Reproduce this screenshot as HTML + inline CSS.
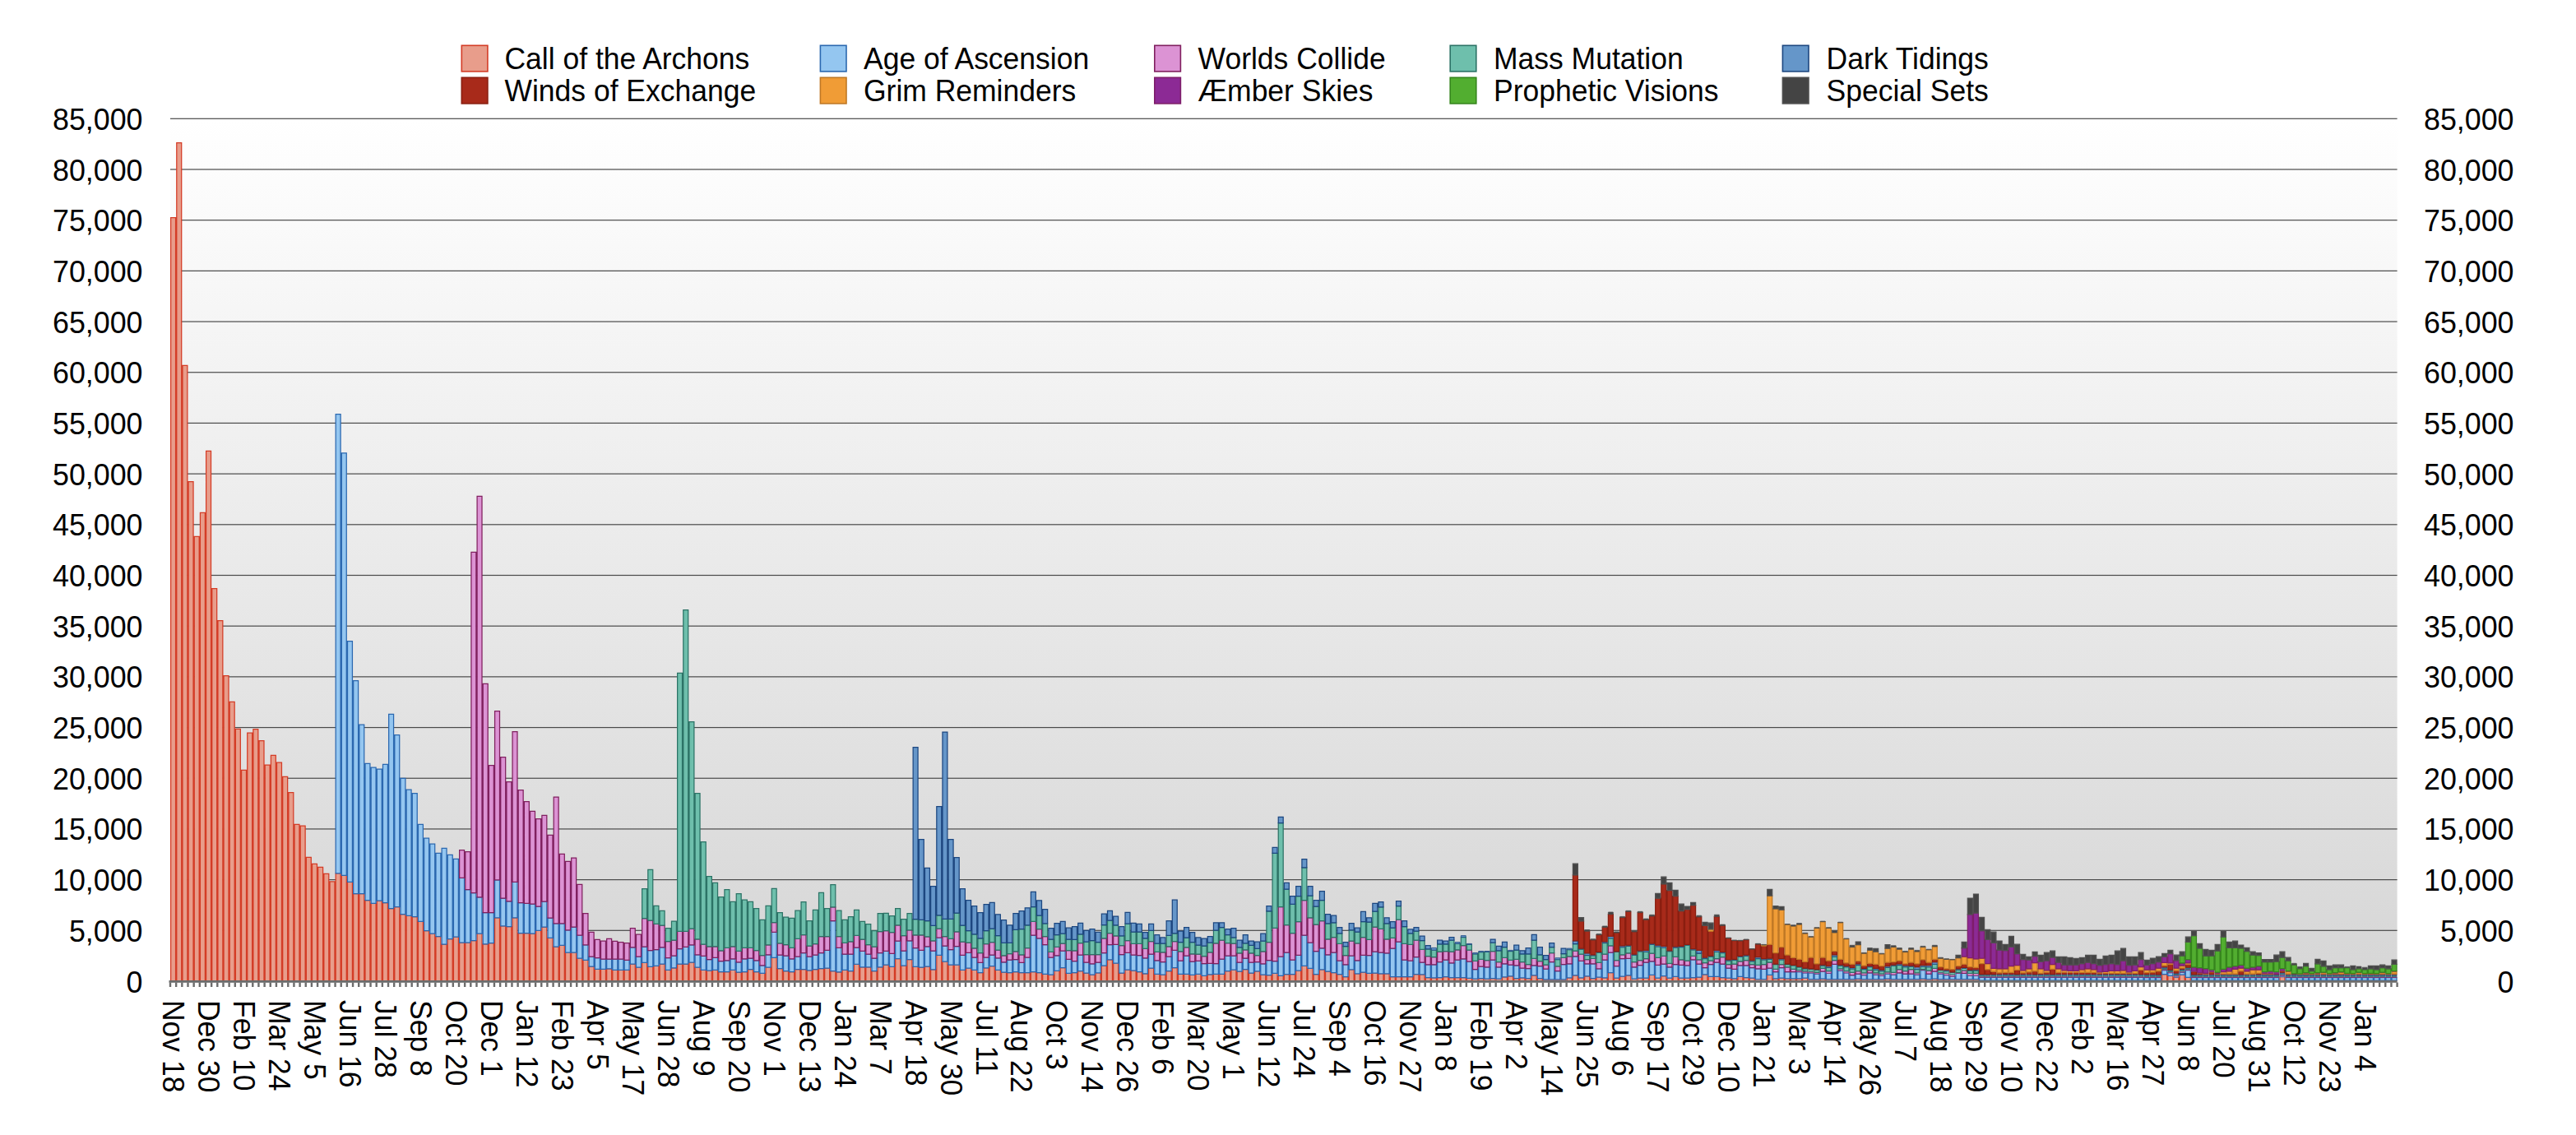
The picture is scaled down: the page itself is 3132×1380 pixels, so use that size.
<!DOCTYPE html><html><head><meta charset="utf-8"><style>html,body{margin:0;padding:0;background:#fff;width:3132px;height:1380px;overflow:hidden}svg{display:block}text{font-family:"Liberation Sans",sans-serif;fill:#000}</style></head><body><svg width="3132" height="1380" viewBox="0 0 3132 1380"><defs><linearGradient id="bg" x1="0" y1="0" x2="0" y2="1"><stop offset="0" stop-color="#ffffff"/><stop offset="1" stop-color="#d6d6d6"/></linearGradient></defs><rect x="207.0" y="144.3" width="2707.6" height="1048.7" fill="url(#bg)"/><rect x="207.0" y="1130.71" width="2707.6" height="1.2" fill="#4a4a4a"/><rect x="207.0" y="1069.02" width="2707.6" height="1.2" fill="#4a4a4a"/><rect x="207.0" y="1007.34" width="2707.6" height="1.2" fill="#4a4a4a"/><rect x="207.0" y="945.65" width="2707.6" height="1.2" fill="#4a4a4a"/><rect x="207.0" y="883.96" width="2707.6" height="1.2" fill="#4a4a4a"/><rect x="207.0" y="822.27" width="2707.6" height="1.2" fill="#4a4a4a"/><rect x="207.0" y="760.58" width="2707.6" height="1.2" fill="#4a4a4a"/><rect x="207.0" y="698.89" width="2707.6" height="1.2" fill="#4a4a4a"/><rect x="207.0" y="637.21" width="2707.6" height="1.2" fill="#4a4a4a"/><rect x="207.0" y="575.52" width="2707.6" height="1.2" fill="#4a4a4a"/><rect x="207.0" y="513.83" width="2707.6" height="1.2" fill="#4a4a4a"/><rect x="207.0" y="452.14" width="2707.6" height="1.2" fill="#4a4a4a"/><rect x="207.0" y="390.45" width="2707.6" height="1.2" fill="#4a4a4a"/><rect x="207.0" y="328.76" width="2707.6" height="1.2" fill="#4a4a4a"/><rect x="207.0" y="267.08" width="2707.6" height="1.2" fill="#4a4a4a"/><rect x="207.0" y="205.39" width="2707.6" height="1.2" fill="#4a4a4a"/><rect x="207.0" y="143.70" width="2707.6" height="1.2" fill="#4a4a4a"/><text transform="translate(173.5,1206.5) scale(1,1.05)" style="font-size:35.8px" text-anchor="end">0</text><text transform="translate(3056.5,1206.5) scale(1,1.05)" style="font-size:35.8px" text-anchor="end">0</text><text transform="translate(173.5,1144.8) scale(1,1.05)" style="font-size:35.8px" text-anchor="end">5,000</text><text transform="translate(3056.5,1144.8) scale(1,1.05)" style="font-size:35.8px" text-anchor="end">5,000</text><text transform="translate(173.5,1083.1) scale(1,1.05)" style="font-size:35.8px" text-anchor="end">10,000</text><text transform="translate(3056.5,1083.1) scale(1,1.05)" style="font-size:35.8px" text-anchor="end">10,000</text><text transform="translate(173.5,1021.4) scale(1,1.05)" style="font-size:35.8px" text-anchor="end">15,000</text><text transform="translate(3056.5,1021.4) scale(1,1.05)" style="font-size:35.8px" text-anchor="end">15,000</text><text transform="translate(173.5,959.7) scale(1,1.05)" style="font-size:35.8px" text-anchor="end">20,000</text><text transform="translate(3056.5,959.7) scale(1,1.05)" style="font-size:35.8px" text-anchor="end">20,000</text><text transform="translate(173.5,898.1) scale(1,1.05)" style="font-size:35.8px" text-anchor="end">25,000</text><text transform="translate(3056.5,898.1) scale(1,1.05)" style="font-size:35.8px" text-anchor="end">25,000</text><text transform="translate(173.5,836.4) scale(1,1.05)" style="font-size:35.8px" text-anchor="end">30,000</text><text transform="translate(3056.5,836.4) scale(1,1.05)" style="font-size:35.8px" text-anchor="end">30,000</text><text transform="translate(173.5,774.7) scale(1,1.05)" style="font-size:35.8px" text-anchor="end">35,000</text><text transform="translate(3056.5,774.7) scale(1,1.05)" style="font-size:35.8px" text-anchor="end">35,000</text><text transform="translate(173.5,713.0) scale(1,1.05)" style="font-size:35.8px" text-anchor="end">40,000</text><text transform="translate(3056.5,713.0) scale(1,1.05)" style="font-size:35.8px" text-anchor="end">40,000</text><text transform="translate(173.5,651.3) scale(1,1.05)" style="font-size:35.8px" text-anchor="end">45,000</text><text transform="translate(3056.5,651.3) scale(1,1.05)" style="font-size:35.8px" text-anchor="end">45,000</text><text transform="translate(173.5,589.6) scale(1,1.05)" style="font-size:35.8px" text-anchor="end">50,000</text><text transform="translate(3056.5,589.6) scale(1,1.05)" style="font-size:35.8px" text-anchor="end">50,000</text><text transform="translate(173.5,527.9) scale(1,1.05)" style="font-size:35.8px" text-anchor="end">55,000</text><text transform="translate(3056.5,527.9) scale(1,1.05)" style="font-size:35.8px" text-anchor="end">55,000</text><text transform="translate(173.5,466.2) scale(1,1.05)" style="font-size:35.8px" text-anchor="end">60,000</text><text transform="translate(3056.5,466.2) scale(1,1.05)" style="font-size:35.8px" text-anchor="end">60,000</text><text transform="translate(173.5,404.6) scale(1,1.05)" style="font-size:35.8px" text-anchor="end">65,000</text><text transform="translate(3056.5,404.6) scale(1,1.05)" style="font-size:35.8px" text-anchor="end">65,000</text><text transform="translate(173.5,342.9) scale(1,1.05)" style="font-size:35.8px" text-anchor="end">70,000</text><text transform="translate(3056.5,342.9) scale(1,1.05)" style="font-size:35.8px" text-anchor="end">70,000</text><text transform="translate(173.5,281.2) scale(1,1.05)" style="font-size:35.8px" text-anchor="end">75,000</text><text transform="translate(3056.5,281.2) scale(1,1.05)" style="font-size:35.8px" text-anchor="end">75,000</text><text transform="translate(173.5,219.5) scale(1,1.05)" style="font-size:35.8px" text-anchor="end">80,000</text><text transform="translate(3056.5,219.5) scale(1,1.05)" style="font-size:35.8px" text-anchor="end">80,000</text><text transform="translate(173.5,157.8) scale(1,1.05)" style="font-size:35.8px" text-anchor="end">85,000</text><text transform="translate(3056.5,157.8) scale(1,1.05)" style="font-size:35.8px" text-anchor="end">85,000</text><g><path d="M207.62 264.50h5.923v928.50h-5.923zM214.78 173.70h5.923v1019.30h-5.923zM221.95 444.40h5.923v748.60h-5.923zM229.11 585.70h5.923v607.30h-5.923zM236.27 652.30h5.923v540.70h-5.923zM243.43 623.40h5.923v569.60h-5.923zM250.60 548.40h5.923v644.60h-5.923zM257.76 715.60h5.923v477.40h-5.923zM264.92 754.50h5.923v438.50h-5.923zM272.09 821.70h5.923v371.30h-5.923zM279.25 853.30h5.923v339.70h-5.923zM286.41 886.30h5.923v306.70h-5.923zM293.58 936.30h5.923v256.70h-5.923zM300.74 891.20h5.923v301.80h-5.923zM307.90 886.60h5.923v306.40h-5.923zM315.06 900.60h5.923v292.40h-5.923zM322.23 930.10h5.923v262.90h-5.923zM329.39 918.40h5.923v274.60h-5.923zM336.55 927.20h5.923v265.80h-5.923zM343.72 944.40h5.923v248.60h-5.923zM350.88 963.50h5.923v229.50h-5.923zM358.04 1002.40h5.923v190.60h-5.923zM365.21 1004.10h5.923v188.90h-5.923zM372.37 1042.30h5.923v150.70h-5.923zM379.53 1050.30h5.923v142.70h-5.923zM386.69 1054.40h5.923v138.60h-5.923zM393.86 1062.40h5.923v130.60h-5.923zM401.02 1071.90h5.923v121.10h-5.923zM408.18 1061.90h5.923v131.10h-5.923zM415.35 1064.40h5.923v128.60h-5.923zM422.51 1072.40h5.923v120.60h-5.923zM429.67 1086.50h5.923v106.50h-5.923zM436.83 1086.50h5.923v106.50h-5.923zM444.00 1094.50h5.923v98.50h-5.923zM451.16 1098.30h5.923v94.70h-5.923zM458.32 1095.00h5.923v98.00h-5.923zM465.49 1097.50h5.923v95.50h-5.923zM472.65 1104.60h5.923v88.40h-5.923zM479.81 1102.60h5.923v90.40h-5.923zM486.98 1111.60h5.923v81.40h-5.923zM494.14 1113.40h5.923v79.60h-5.923zM501.30 1114.60h5.923v78.40h-5.923zM508.46 1120.40h5.923v72.60h-5.923zM515.63 1131.50h5.923v61.50h-5.923zM522.79 1135.20h5.923v57.80h-5.923zM529.95 1138.50h5.923v54.50h-5.923zM537.12 1148.00h5.923v45.00h-5.923zM544.28 1141.70h5.923v51.30h-5.923zM551.44 1139.20h5.923v53.80h-5.923zM558.61 1146.00h5.923v47.00h-5.923zM565.77 1146.00h5.923v47.00h-5.923zM572.93 1143.50h5.923v49.50h-5.923zM580.09 1135.20h5.923v57.80h-5.923zM587.26 1147.80h5.923v45.20h-5.923zM594.42 1146.50h5.923v46.50h-5.923zM601.58 1115.90h5.923v77.10h-5.923zM608.75 1125.90h5.923v67.10h-5.923zM615.91 1126.70h5.923v66.30h-5.923zM623.07 1115.90h5.923v77.10h-5.923zM630.23 1134.70h5.923v58.30h-5.923zM637.40 1134.70h5.923v58.30h-5.923zM644.56 1135.10h5.923v57.90h-5.923zM651.72 1131.30h5.923v61.70h-5.923zM658.89 1127.10h5.923v65.90h-5.923zM666.05 1140.40h5.923v52.60h-5.923zM673.21 1151.00h5.923v42.00h-5.923zM680.38 1149.30h5.923v43.70h-5.923zM687.54 1158.20h5.923v34.80h-5.923zM694.70 1158.20h5.923v34.80h-5.923zM701.86 1165.20h5.923v27.80h-5.923zM709.03 1167.30h5.923v25.70h-5.923zM716.19 1175.10h5.923v17.90h-5.923zM723.35 1178.30h5.923v14.70h-5.923zM730.52 1178.30h5.923v14.70h-5.923zM737.68 1177.80h5.923v15.20h-5.923zM744.84 1179.30h5.923v13.70h-5.923zM752.01 1179.30h5.923v13.70h-5.923zM759.17 1179.30h5.923v13.70h-5.923zM766.33 1172.10h5.923v20.90h-5.923zM773.49 1176.20h5.923v16.80h-5.923zM780.66 1170.40h5.923v22.60h-5.923zM787.82 1175.30h5.923v17.70h-5.923zM794.98 1174.30h5.923v18.70h-5.923zM802.15 1172.10h5.923v20.90h-5.923zM809.31 1179.30h5.923v13.70h-5.923zM816.47 1176.80h5.923v16.20h-5.923zM823.63 1172.10h5.923v20.90h-5.923zM830.80 1172.10h5.923v20.90h-5.923zM837.96 1170.00h5.923v23.00h-5.923zM845.12 1176.20h5.923v16.80h-5.923zM852.29 1179.30h5.923v13.70h-5.923zM859.45 1180.20h5.923v12.80h-5.923zM866.61 1179.40h5.923v13.60h-5.923zM873.78 1181.50h5.923v11.50h-5.923zM880.94 1181.50h5.923v11.50h-5.923zM888.10 1179.40h5.923v13.60h-5.923zM895.26 1182.10h5.923v10.90h-5.923zM902.43 1181.50h5.923v11.50h-5.923zM909.59 1178.60h5.923v14.40h-5.923zM916.75 1181.50h5.923v11.50h-5.923zM923.92 1183.40h5.923v9.60h-5.923zM931.08 1176.20h5.923v16.80h-5.923zM938.24 1164.30h5.923v28.70h-5.923zM945.41 1177.50h5.923v15.50h-5.923zM952.57 1180.70h5.923v12.30h-5.923zM959.73 1181.50h5.923v11.50h-5.923zM966.89 1178.60h5.923v14.40h-5.923zM974.06 1178.60h5.923v14.40h-5.923zM981.22 1179.90h5.923v13.10h-5.923zM988.38 1178.60h5.923v14.40h-5.923zM995.55 1177.50h5.923v15.50h-5.923zM1002.71 1177.00h5.923v16.00h-5.923zM1009.87 1180.70h5.923v12.30h-5.923zM1017.03 1181.80h5.923v11.20h-5.923zM1024.20 1179.40h5.923v13.60h-5.923zM1031.36 1180.70h5.923v12.30h-5.923zM1038.52 1172.30h5.923v20.70h-5.923zM1045.69 1175.90h5.923v17.10h-5.923zM1052.85 1175.90h5.923v17.10h-5.923zM1060.01 1180.70h5.923v12.30h-5.923zM1067.18 1175.90h5.923v17.10h-5.923zM1074.34 1173.10h5.923v19.90h-5.923zM1081.50 1175.30h5.923v17.70h-5.923zM1088.66 1165.50h5.923v27.50h-5.923zM1095.83 1174.10h5.923v18.90h-5.923zM1102.99 1166.70h5.923v26.30h-5.923zM1110.15 1175.30h5.923v17.70h-5.923zM1117.32 1176.00h5.923v17.00h-5.923zM1124.48 1175.10h5.923v17.90h-5.923zM1131.64 1178.80h5.923v14.20h-5.923zM1138.81 1161.40h5.923v31.60h-5.923zM1145.97 1169.20h5.923v23.80h-5.923zM1153.13 1173.20h5.923v19.80h-5.923zM1160.29 1173.20h5.923v19.80h-5.923zM1167.46 1179.40h5.923v13.60h-5.923zM1174.62 1177.20h5.923v15.80h-5.923zM1181.78 1179.40h5.923v13.60h-5.923zM1188.95 1182.70h5.923v10.30h-5.923zM1196.11 1176.90h5.923v16.10h-5.923zM1203.27 1174.70h5.923v18.30h-5.923zM1210.43 1179.40h5.923v13.60h-5.923zM1217.60 1182.10h5.923v10.90h-5.923zM1224.76 1182.70h5.923v10.30h-5.923zM1231.92 1181.50h5.923v11.50h-5.923zM1239.09 1182.70h5.923v10.30h-5.923zM1246.25 1182.70h5.923v10.30h-5.923zM1253.41 1181.50h5.923v11.50h-5.923zM1260.58 1182.70h5.923v10.30h-5.923zM1267.74 1184.30h5.923v8.70h-5.923zM1274.90 1185.20h5.923v7.80h-5.923zM1282.06 1180.30h5.923v12.70h-5.923zM1289.23 1176.60h5.923v16.40h-5.923zM1296.39 1183.30h5.923v9.70h-5.923zM1303.55 1182.60h5.923v10.40h-5.923zM1310.72 1180.60h5.923v12.40h-5.923zM1317.88 1183.10h5.923v9.90h-5.923zM1325.04 1185.00h5.923v8.00h-5.923zM1332.21 1182.90h5.923v10.10h-5.923zM1339.37 1174.10h5.923v18.90h-5.923zM1346.53 1166.80h5.923v26.20h-5.923zM1353.69 1171.20h5.923v21.80h-5.923zM1360.86 1183.10h5.923v9.90h-5.923zM1368.02 1179.00h5.923v14.00h-5.923zM1375.18 1180.10h5.923v12.90h-5.923zM1382.35 1181.60h5.923v11.40h-5.923zM1389.51 1183.80h5.923v9.20h-5.923zM1396.67 1177.00h5.923v16.00h-5.923zM1403.83 1184.30h5.923v8.70h-5.923zM1411.00 1185.00h5.923v8.00h-5.923zM1418.16 1180.60h5.923v12.40h-5.923zM1425.32 1176.70h5.923v16.30h-5.923zM1432.49 1184.30h5.923v8.70h-5.923zM1439.65 1184.30h5.923v8.70h-5.923zM1446.81 1185.30h5.923v7.70h-5.923zM1453.98 1184.30h5.923v8.70h-5.923zM1461.14 1186.30h5.923v6.70h-5.923zM1468.30 1184.80h5.923v8.20h-5.923zM1475.46 1184.30h5.923v8.70h-5.923zM1482.63 1184.30h5.923v8.70h-5.923zM1489.79 1180.60h5.923v12.40h-5.923zM1496.95 1179.20h5.923v13.80h-5.923zM1504.12 1181.10h5.923v11.90h-5.923zM1511.28 1178.70h5.923v14.30h-5.923zM1518.44 1183.10h5.923v9.90h-5.923zM1525.61 1180.90h5.923v12.10h-5.923zM1532.77 1185.00h5.923v8.00h-5.923zM1539.93 1185.50h5.923v7.50h-5.923zM1547.09 1183.30h5.923v9.70h-5.923zM1554.26 1186.30h5.923v6.70h-5.923zM1561.42 1184.50h5.923v8.50h-5.923zM1568.58 1184.50h5.923v8.50h-5.923zM1575.75 1180.20h5.923v12.80h-5.923zM1582.91 1174.30h5.923v18.70h-5.923zM1590.07 1177.40h5.923v15.60h-5.923zM1597.23 1184.50h5.923v8.50h-5.923zM1604.40 1178.90h5.923v14.10h-5.923zM1611.56 1181.10h5.923v11.90h-5.923zM1618.72 1182.60h5.923v10.40h-5.923zM1625.89 1184.50h5.923v8.50h-5.923zM1633.05 1187.60h5.923v5.40h-5.923zM1640.21 1178.90h5.923v14.10h-5.923zM1647.38 1183.90h5.923v9.10h-5.923zM1654.54 1182.00h5.923v11.00h-5.923zM1661.70 1183.30h5.923v9.70h-5.923zM1668.86 1183.00h5.923v10.00h-5.923zM1676.03 1183.90h5.923v9.10h-5.923zM1683.19 1183.90h5.923v9.10h-5.923zM1690.35 1187.60h5.923v5.40h-5.923zM1697.52 1187.60h5.923v5.40h-5.923zM1704.68 1187.60h5.923v5.40h-5.923zM1711.84 1187.60h5.923v5.40h-5.923zM1719.01 1184.50h5.923v8.50h-5.923zM1726.17 1184.80h5.923v8.20h-5.923zM1733.33 1188.50h5.923v4.50h-5.923zM1740.49 1188.90h5.923v4.10h-5.923zM1747.66 1188.50h5.923v4.50h-5.923zM1754.82 1187.60h5.923v5.40h-5.923zM1761.98 1188.50h5.923v4.50h-5.923zM1769.15 1188.50h5.923v4.50h-5.923zM1776.31 1188.50h5.923v4.50h-5.923zM1783.47 1189.40h5.923v3.60h-5.923zM1797.80 1189.50h5.923v3.50h-5.923zM1812.12 1189.50h5.923v3.50h-5.923zM1826.45 1187.80h5.923v5.20h-5.923zM1833.61 1186.80h5.923v6.20h-5.923zM1840.78 1189.50h5.923v3.50h-5.923zM1847.94 1188.90h5.923v4.10h-5.923zM1855.10 1189.50h5.923v3.50h-5.923zM1862.26 1185.80h5.923v7.20h-5.923zM1869.43 1189.50h5.923v3.50h-5.923zM1905.24 1188.90h5.923v4.10h-5.923zM1912.41 1185.80h5.923v7.20h-5.923zM1919.57 1188.90h5.923v4.10h-5.923zM1926.73 1186.80h5.923v6.20h-5.923zM1933.89 1189.50h5.923v3.50h-5.923zM1941.06 1188.20h5.923v4.80h-5.923zM1948.22 1188.90h5.923v4.10h-5.923zM1955.38 1182.70h5.923v10.30h-5.923zM1962.55 1189.10h5.923v3.90h-5.923zM1969.71 1187.20h5.923v5.80h-5.923zM1976.87 1185.80h5.923v7.20h-5.923zM1991.20 1189.10h5.923v3.90h-5.923zM1998.36 1189.20h5.923v3.80h-5.923zM2005.52 1185.40h5.923v7.60h-5.923zM2012.69 1189.20h5.923v3.80h-5.923zM2019.85 1186.70h5.923v6.30h-5.923zM2027.01 1189.20h5.923v3.80h-5.923zM2034.18 1187.30h5.923v5.70h-5.923zM2041.34 1189.20h5.923v3.80h-5.923zM2048.50 1189.20h5.923v3.80h-5.923zM2055.66 1188.60h5.923v4.40h-5.923zM2062.83 1188.00h5.923v5.00h-5.923zM2069.99 1184.80h5.923v8.20h-5.923zM2077.15 1187.30h5.923v5.70h-5.923zM2084.32 1187.30h5.923v5.70h-5.923zM2091.48 1188.60h5.923v4.40h-5.923zM2098.64 1189.20h5.923v3.80h-5.923zM2105.81 1189.90h5.923v3.10h-5.923zM2112.97 1187.30h5.923v5.70h-5.923zM2120.13 1188.60h5.923v4.40h-5.923zM2127.29 1189.00h5.923v4.00h-5.923zM2148.78 1185.40h5.923v7.60h-5.923zM2155.95 1189.90h5.923v3.10h-5.923zM2163.11 1189.20h5.923v3.80h-5.923zM2170.27 1189.90h5.923v3.10h-5.923zM2177.43 1189.90h5.923v3.10h-5.923zM2184.60 1189.90h5.923v3.10h-5.923zM2191.76 1189.20h5.923v3.80h-5.923zM2213.25 1190.00h5.923v3.00h-5.923zM2256.23 1190.00h5.923v3.00h-5.923zM2292.04 1190.00h5.923v3.00h-5.923zM2335.02 1190.00h5.923v3.00h-5.923zM2349.35 1190.00h5.923v3.00h-5.923zM2628.70 1184.60h5.923v8.40h-5.923zM2635.86 1186.40h5.923v6.60h-5.923zM2643.03 1188.30h5.923v4.70h-5.923zM2650.19 1185.20h5.923v7.80h-5.923zM2657.35 1188.30h5.923v4.70h-5.923zM2771.96 1187.70h5.923v5.30h-5.923z" fill="#e89d8b" stroke="#d43c26" stroke-width="1.25"/><path d="M1790.63 1190.20h5.923v2.80h-5.923zM1804.96 1190.20h5.923v2.80h-5.923zM1819.29 1190.20h5.923v2.80h-5.923zM1876.59 1190.90h5.923v2.10h-5.923zM1883.75 1190.90h5.923v2.10h-5.923zM1890.92 1190.90h5.923v2.10h-5.923zM1898.08 1190.90h5.923v2.10h-5.923zM1984.03 1190.20h5.923v2.80h-5.923zM2134.46 1190.50h5.923v2.50h-5.923zM2141.62 1190.50h5.923v2.50h-5.923zM2198.92 1190.60h5.923v2.40h-5.923zM2206.09 1190.60h5.923v2.40h-5.923zM2220.41 1190.60h5.923v2.40h-5.923zM2227.58 1190.60h5.923v2.40h-5.923zM2234.74 1190.60h5.923v2.40h-5.923zM2241.90 1190.60h5.923v2.40h-5.923zM2249.06 1190.60h5.923v2.40h-5.923zM2263.39 1190.60h5.923v2.40h-5.923zM2270.55 1190.60h5.923v2.40h-5.923zM2277.72 1190.60h5.923v2.40h-5.923zM2284.88 1190.60h5.923v2.40h-5.923zM2299.21 1190.60h5.923v2.40h-5.923zM2306.37 1190.60h5.923v2.40h-5.923zM2313.53 1190.60h5.923v2.40h-5.923zM2320.69 1190.60h5.923v2.40h-5.923zM2327.86 1190.60h5.923v2.40h-5.923zM2342.18 1190.60h5.923v2.40h-5.923zM2356.51 1190.60h5.923v2.40h-5.923zM2363.67 1190.60h5.923v2.40h-5.923zM2370.83 1190.60h5.923v2.40h-5.923zM2378.00 1190.60h5.923v2.40h-5.923zM2385.16 1190.60h5.923v2.40h-5.923zM2392.32 1190.60h5.923v2.40h-5.923zM2399.49 1190.60h5.923v2.40h-5.923zM2406.65 1192.00h5.923v1.00h-5.923zM2413.81 1192.00h5.923v1.00h-5.923zM2420.98 1192.00h5.923v1.00h-5.923zM2428.14 1192.00h5.923v1.00h-5.923zM2435.30 1192.00h5.923v1.00h-5.923zM2442.46 1192.00h5.923v1.00h-5.923zM2449.63 1192.00h5.923v1.00h-5.923zM2456.79 1192.00h5.923v1.00h-5.923zM2463.95 1192.00h5.923v1.00h-5.923zM2471.12 1192.00h5.923v1.00h-5.923zM2478.28 1192.00h5.923v1.00h-5.923zM2485.44 1192.00h5.923v1.00h-5.923zM2492.61 1192.00h5.923v1.00h-5.923zM2499.77 1192.00h5.923v1.00h-5.923zM2506.93 1192.00h5.923v1.00h-5.923zM2514.09 1192.00h5.923v1.00h-5.923zM2521.26 1192.00h5.923v1.00h-5.923zM2528.42 1192.00h5.923v1.00h-5.923zM2535.58 1192.00h5.923v1.00h-5.923zM2542.75 1192.00h5.923v1.00h-5.923zM2549.91 1192.00h5.923v1.00h-5.923zM2557.07 1192.00h5.923v1.00h-5.923zM2564.23 1192.00h5.923v1.00h-5.923zM2571.40 1192.00h5.923v1.00h-5.923zM2578.56 1192.00h5.923v1.00h-5.923zM2585.72 1192.00h5.923v1.00h-5.923zM2592.89 1192.00h5.923v1.00h-5.923zM2600.05 1192.00h5.923v1.00h-5.923zM2607.21 1192.00h5.923v1.00h-5.923zM2614.38 1192.00h5.923v1.00h-5.923zM2621.54 1192.00h5.923v1.00h-5.923zM2664.52 1192.00h5.923v1.00h-5.923zM2671.68 1192.00h5.923v1.00h-5.923zM2678.84 1192.00h5.923v1.00h-5.923zM2686.01 1192.00h5.923v1.00h-5.923zM2693.17 1192.00h5.923v1.00h-5.923zM2700.33 1192.00h5.923v1.00h-5.923zM2707.49 1192.00h5.923v1.00h-5.923zM2714.66 1192.00h5.923v1.00h-5.923zM2721.82 1192.00h5.923v1.00h-5.923zM2728.98 1192.00h5.923v1.00h-5.923zM2736.15 1192.00h5.923v1.00h-5.923zM2743.31 1192.00h5.923v1.00h-5.923zM2750.47 1192.00h5.923v1.00h-5.923zM2757.63 1192.00h5.923v1.00h-5.923zM2764.80 1192.00h5.923v1.00h-5.923zM2779.12 1192.00h5.923v1.00h-5.923zM2786.29 1192.00h5.923v1.00h-5.923zM2793.45 1192.00h5.923v1.00h-5.923zM2800.61 1192.00h5.923v1.00h-5.923zM2807.78 1192.00h5.923v1.00h-5.923zM2814.94 1192.00h5.923v1.00h-5.923zM2822.10 1192.00h5.923v1.00h-5.923zM2829.26 1192.00h5.923v1.00h-5.923zM2836.43 1192.00h5.923v1.00h-5.923zM2843.59 1192.00h5.923v1.00h-5.923zM2850.75 1192.00h5.923v1.00h-5.923zM2857.92 1192.00h5.923v1.00h-5.923zM2865.08 1192.00h5.923v1.00h-5.923zM2872.24 1192.00h5.923v1.00h-5.923zM2879.41 1192.00h5.923v1.00h-5.923zM2886.57 1192.00h5.923v1.00h-5.923zM2893.73 1192.00h5.923v1.00h-5.923zM2900.89 1192.00h5.923v1.00h-5.923zM2908.06 1192.00h5.923v1.00h-5.923z" fill="#e89d8b" stroke="#d43c26" stroke-width="0.8"/></g><g><path d="M408.18 503.60h5.923v558.30h-5.923zM415.35 550.80h5.923v513.60h-5.923zM422.51 779.50h5.923v292.90h-5.923zM429.67 827.50h5.923v259.00h-5.923zM436.83 881.20h5.923v205.30h-5.923zM444.00 928.30h5.923v166.20h-5.923zM451.16 933.10h5.923v165.20h-5.923zM458.32 935.10h5.923v159.90h-5.923zM465.49 929.30h5.923v168.20h-5.923zM472.65 868.40h5.923v236.20h-5.923zM479.81 893.50h5.923v209.10h-5.923zM486.98 946.40h5.923v165.20h-5.923zM494.14 960.20h5.923v153.20h-5.923zM501.30 964.50h5.923v150.10h-5.923zM508.46 1002.40h5.923v118.00h-5.923zM515.63 1019.20h5.923v112.30h-5.923zM522.79 1026.20h5.923v109.00h-5.923zM529.95 1037.30h5.923v101.20h-5.923zM537.12 1031.30h5.923v116.70h-5.923zM544.28 1039.30h5.923v102.40h-5.923zM551.44 1044.30h5.923v94.90h-5.923zM558.61 1067.40h5.923v78.60h-5.923zM565.77 1081.50h5.923v64.50h-5.923zM572.93 1085.70h5.923v57.80h-5.923zM580.09 1090.80h5.923v44.40h-5.923zM587.26 1109.60h5.923v38.20h-5.923zM594.42 1109.60h5.923v36.90h-5.923zM601.58 1069.90h5.923v46.00h-5.923zM608.75 1092.00h5.923v33.90h-5.923zM615.91 1095.80h5.923v30.90h-5.923zM623.07 1072.40h5.923v43.50h-5.923zM630.23 1097.50h5.923v37.20h-5.923zM637.40 1098.30h5.923v36.40h-5.923zM644.56 1099.00h5.923v36.10h-5.923zM651.72 1102.10h5.923v29.20h-5.923zM658.89 1096.00h5.923v31.10h-5.923zM666.05 1116.10h5.923v24.30h-5.923zM673.21 1122.90h5.923v28.10h-5.923zM680.38 1122.90h5.923v26.40h-5.923zM687.54 1130.90h5.923v27.30h-5.923zM694.70 1127.10h5.923v31.10h-5.923zM701.86 1137.20h5.923v28.00h-5.923zM709.03 1148.90h5.923v18.40h-5.923zM716.19 1163.00h5.923v12.10h-5.923zM723.35 1164.70h5.923v13.60h-5.923zM730.52 1166.20h5.923v12.10h-5.923zM737.68 1166.20h5.923v11.60h-5.923zM744.84 1166.20h5.923v13.10h-5.923zM752.01 1166.20h5.923v13.10h-5.923zM759.17 1167.30h5.923v12.00h-5.923zM766.33 1151.80h5.923v20.30h-5.923zM773.49 1163.00h5.923v13.20h-5.923zM780.66 1151.00h5.923v19.40h-5.923zM787.82 1155.60h5.923v19.70h-5.923zM794.98 1154.60h5.923v19.70h-5.923zM802.15 1151.80h5.923v20.30h-5.923zM809.31 1164.50h5.923v14.80h-5.923zM816.47 1162.00h5.923v14.80h-5.923zM823.63 1153.50h5.923v18.60h-5.923zM830.80 1151.40h5.923v20.70h-5.923zM837.96 1148.90h5.923v21.10h-5.923zM845.12 1160.90h5.923v15.30h-5.923zM852.29 1162.40h5.923v16.90h-5.923zM859.45 1166.70h5.923v13.50h-5.923zM866.61 1164.30h5.923v15.10h-5.923zM873.78 1168.60h5.923v12.90h-5.923zM880.94 1167.80h5.923v13.70h-5.923zM888.10 1165.90h5.923v13.50h-5.923zM895.26 1169.90h5.923v12.20h-5.923zM902.43 1165.90h5.923v15.60h-5.923zM909.59 1165.10h5.923v13.50h-5.923zM916.75 1167.80h5.923v13.70h-5.923zM923.92 1173.80h5.923v9.60h-5.923zM931.08 1160.80h5.923v15.40h-5.923zM938.24 1133.40h5.923v30.90h-5.923zM945.41 1161.20h5.923v16.30h-5.923zM952.57 1162.00h5.923v18.70h-5.923zM959.73 1165.90h5.923v15.60h-5.923zM966.89 1163.20h5.923v15.40h-5.923zM974.06 1158.50h5.923v20.10h-5.923zM981.22 1163.20h5.923v16.70h-5.923zM988.38 1161.20h5.923v17.40h-5.923zM995.55 1158.50h5.923v19.00h-5.923zM1002.71 1155.30h5.923v21.70h-5.923zM1009.87 1119.60h5.923v61.10h-5.923zM1017.03 1152.40h5.923v29.40h-5.923zM1024.20 1160.00h5.923v19.40h-5.923zM1031.36 1160.00h5.923v20.70h-5.923zM1038.52 1152.10h5.923v20.20h-5.923zM1045.69 1156.40h5.923v19.50h-5.923zM1052.85 1160.00h5.923v15.90h-5.923zM1060.01 1165.10h5.923v15.60h-5.923zM1067.18 1158.50h5.923v17.40h-5.923zM1074.34 1156.40h5.923v16.70h-5.923zM1081.50 1159.30h5.923v16.00h-5.923zM1088.66 1144.20h5.923v21.30h-5.923zM1095.83 1156.00h5.923v18.10h-5.923zM1102.99 1143.90h5.923v22.80h-5.923zM1110.15 1152.50h5.923v22.80h-5.923zM1117.32 1155.40h5.923v20.60h-5.923zM1124.48 1150.90h5.923v24.20h-5.923zM1131.64 1156.00h5.923v22.80h-5.923zM1138.81 1140.20h5.923v21.20h-5.923zM1145.97 1150.00h5.923v19.20h-5.923zM1153.13 1154.70h5.923v18.50h-5.923zM1160.29 1150.70h5.923v22.50h-5.923zM1167.46 1161.40h5.923v18.00h-5.923zM1174.62 1158.30h5.923v18.90h-5.923zM1181.78 1164.20h5.923v15.20h-5.923zM1188.95 1170.40h5.923v12.30h-5.923zM1196.11 1164.20h5.923v12.70h-5.923zM1203.27 1161.10h5.923v13.60h-5.923zM1210.43 1164.80h5.923v14.60h-5.923zM1217.60 1169.80h5.923v12.30h-5.923zM1224.76 1167.10h5.923v15.60h-5.923zM1231.92 1166.70h5.923v14.80h-5.923zM1239.09 1170.40h5.923v12.30h-5.923zM1246.25 1164.20h5.923v18.50h-5.923zM1253.41 1137.10h5.923v44.40h-5.923zM1260.58 1140.80h5.923v41.90h-5.923zM1267.74 1148.60h5.923v35.70h-5.923zM1274.90 1164.20h5.923v21.00h-5.923zM1282.06 1161.80h5.923v18.50h-5.923zM1289.23 1156.20h5.923v20.40h-5.923zM1296.39 1166.40h5.923v16.90h-5.923zM1303.55 1168.50h5.923v14.10h-5.923zM1310.72 1161.20h5.923v19.40h-5.923zM1317.88 1170.20h5.923v12.90h-5.923zM1325.04 1171.90h5.923v13.10h-5.923zM1332.21 1170.00h5.923v12.90h-5.923zM1339.37 1158.60h5.923v15.50h-5.923zM1346.53 1148.60h5.923v18.20h-5.923zM1353.69 1148.30h5.923v22.90h-5.923zM1360.86 1160.70h5.923v22.40h-5.923zM1368.02 1158.30h5.923v20.70h-5.923zM1375.18 1161.20h5.923v18.90h-5.923zM1382.35 1161.70h5.923v19.90h-5.923zM1389.51 1164.90h5.923v18.90h-5.923zM1396.67 1160.00h5.923v17.00h-5.923zM1403.83 1167.80h5.923v16.50h-5.923zM1411.00 1169.50h5.923v15.50h-5.923zM1418.16 1163.20h5.923v17.40h-5.923zM1425.32 1155.40h5.923v21.30h-5.923zM1432.49 1168.00h5.923v16.30h-5.923zM1439.65 1162.20h5.923v22.10h-5.923zM1446.81 1169.00h5.923v16.30h-5.923zM1453.98 1168.30h5.923v16.00h-5.923zM1461.14 1171.70h5.923v14.60h-5.923zM1468.30 1171.40h5.923v13.40h-5.923zM1475.46 1171.70h5.923v12.60h-5.923zM1482.63 1166.10h5.923v18.20h-5.923zM1489.79 1162.00h5.923v18.60h-5.923zM1496.95 1162.20h5.923v17.00h-5.923zM1504.12 1170.00h5.923v11.10h-5.923zM1511.28 1165.10h5.923v13.60h-5.923zM1518.44 1170.20h5.923v12.90h-5.923zM1525.61 1169.50h5.923v11.40h-5.923zM1532.77 1171.90h5.923v13.10h-5.923zM1539.93 1167.50h5.923v18.00h-5.923zM1547.09 1168.70h5.923v14.60h-5.923zM1554.26 1163.20h5.923v23.10h-5.923zM1561.42 1158.00h5.923v26.50h-5.923zM1568.58 1167.20h5.923v17.30h-5.923zM1575.75 1161.30h5.923v18.90h-5.923zM1582.91 1137.10h5.923v37.20h-5.923zM1590.07 1146.00h5.923v31.40h-5.923zM1597.23 1156.70h5.923v27.80h-5.923zM1604.40 1152.80h5.923v26.10h-5.923zM1611.56 1160.80h5.923v20.30h-5.923zM1618.72 1158.00h5.923v24.60h-5.923zM1625.89 1168.20h5.923v16.30h-5.923zM1633.05 1172.80h5.923v14.80h-5.923zM1640.21 1162.20h5.923v16.70h-5.923zM1647.38 1167.80h5.923v16.10h-5.923zM1654.54 1161.30h5.923v20.70h-5.923zM1661.70 1161.70h5.923v21.60h-5.923zM1668.86 1157.10h5.923v25.90h-5.923zM1676.03 1158.00h5.923v25.90h-5.923zM1683.19 1158.90h5.923v25.00h-5.923zM1690.35 1153.00h5.923v34.60h-5.923zM1697.52 1145.00h5.923v42.60h-5.923zM1704.68 1167.20h5.923v20.40h-5.923zM1711.84 1168.20h5.923v19.40h-5.923zM1719.01 1163.50h5.923v21.00h-5.923zM1726.17 1170.00h5.923v14.80h-5.923zM1733.33 1172.80h5.923v15.70h-5.923zM1740.49 1172.80h5.923v16.10h-5.923zM1747.66 1169.70h5.923v18.80h-5.923zM1754.82 1167.20h5.923v20.40h-5.923zM1761.98 1170.90h5.923v17.60h-5.923zM1769.15 1167.20h5.923v21.30h-5.923zM1776.31 1165.90h5.923v22.60h-5.923zM1783.47 1169.10h5.923v20.30h-5.923zM1790.63 1178.60h5.923v11.60h-5.923zM1797.80 1175.20h5.923v14.30h-5.923zM1804.96 1175.90h5.923v14.30h-5.923zM1812.12 1167.00h5.923v22.50h-5.923zM1819.29 1175.90h5.923v14.30h-5.923zM1826.45 1171.80h5.923v16.00h-5.923zM1833.61 1173.10h5.923v13.70h-5.923zM1840.78 1173.80h5.923v15.70h-5.923zM1847.94 1177.20h5.923v11.70h-5.923zM1855.10 1177.70h5.923v11.80h-5.923zM1862.26 1173.80h5.923v12.00h-5.923zM1869.43 1174.50h5.923v15.00h-5.923zM1876.59 1178.20h5.923v12.70h-5.923zM1883.75 1169.50h5.923v21.40h-5.923zM1890.92 1180.70h5.923v10.20h-5.923zM1898.08 1172.50h5.923v18.40h-5.923zM1905.24 1171.80h5.923v17.10h-5.923zM1912.41 1162.90h5.923v22.90h-5.923zM1919.57 1168.40h5.923v20.50h-5.923zM1926.73 1171.80h5.923v15.00h-5.923zM1933.89 1171.80h5.923v17.70h-5.923zM1941.06 1177.90h5.923v10.30h-5.923zM1948.22 1167.00h5.923v21.90h-5.923zM1955.38 1158.10h5.923v24.60h-5.923zM1962.55 1174.50h5.923v14.60h-5.923zM1969.71 1165.60h5.923v21.60h-5.923zM1976.87 1165.40h5.923v20.40h-5.923zM1984.03 1175.90h5.923v14.30h-5.923zM1991.20 1173.60h5.923v15.50h-5.923zM1998.36 1170.10h5.923v19.10h-5.923zM2005.52 1168.80h5.923v16.60h-5.923zM2012.69 1173.30h5.923v15.90h-5.923zM2019.85 1172.00h5.923v14.70h-5.923zM2027.01 1175.80h5.923v13.40h-5.923zM2034.18 1172.60h5.923v14.70h-5.923zM2041.34 1173.30h5.923v15.90h-5.923zM2048.50 1173.90h5.923v15.30h-5.923zM2055.66 1166.90h5.923v21.70h-5.923zM2062.83 1172.00h5.923v16.00h-5.923zM2069.99 1176.50h5.923v8.30h-5.923zM2077.15 1172.60h5.923v14.70h-5.923zM2084.32 1170.10h5.923v17.20h-5.923zM2091.48 1172.00h5.923v16.60h-5.923zM2098.64 1177.10h5.923v12.10h-5.923zM2105.81 1178.40h5.923v11.50h-5.923zM2112.97 1173.90h5.923v13.40h-5.923zM2120.13 1173.90h5.923v14.70h-5.923zM2127.29 1176.50h5.923v12.50h-5.923zM2134.46 1177.80h5.923v12.70h-5.923zM2141.62 1178.40h5.923v12.10h-5.923zM2148.78 1177.10h5.923v8.30h-5.923zM2155.95 1181.60h5.923v8.30h-5.923zM2163.11 1176.50h5.923v12.70h-5.923zM2170.27 1181.60h5.923v8.30h-5.923zM2177.43 1181.60h5.923v8.30h-5.923zM2184.60 1181.60h5.923v8.30h-5.923zM2191.76 1182.90h5.923v6.30h-5.923zM2198.92 1182.90h5.923v7.70h-5.923zM2206.09 1184.00h5.923v6.60h-5.923zM2213.25 1181.20h5.923v8.80h-5.923zM2220.41 1183.40h5.923v7.20h-5.923zM2227.58 1172.40h5.923v18.20h-5.923zM2234.74 1180.10h5.923v10.50h-5.923zM2241.90 1182.90h5.923v7.70h-5.923zM2249.06 1185.60h5.923v5.00h-5.923zM2256.23 1184.00h5.923v6.00h-5.923zM2263.39 1185.60h5.923v5.00h-5.923zM2270.55 1182.90h5.923v7.70h-5.923zM2277.72 1185.10h5.923v5.50h-5.923zM2284.88 1186.20h5.923v4.40h-5.923zM2292.04 1184.00h5.923v6.00h-5.923zM2299.21 1185.10h5.923v5.50h-5.923zM2306.37 1182.90h5.923v7.70h-5.923zM2313.53 1184.00h5.923v6.60h-5.923zM2320.69 1184.00h5.923v6.60h-5.923zM2327.86 1185.10h5.923v5.50h-5.923zM2335.02 1179.60h5.923v10.40h-5.923zM2342.18 1184.00h5.923v6.60h-5.923zM2349.35 1181.20h5.923v8.80h-5.923zM2356.51 1184.00h5.923v6.60h-5.923zM2363.67 1185.60h5.923v5.00h-5.923zM2370.83 1187.30h5.923v3.30h-5.923zM2378.00 1183.40h5.923v7.20h-5.923zM2385.16 1183.40h5.923v7.20h-5.923zM2392.32 1186.20h5.923v4.40h-5.923zM2399.49 1186.20h5.923v4.40h-5.923zM2406.65 1188.30h5.923v3.70h-5.923zM2413.81 1188.30h5.923v3.70h-5.923zM2420.98 1188.30h5.923v3.70h-5.923zM2428.14 1188.30h5.923v3.70h-5.923zM2435.30 1188.30h5.923v3.70h-5.923zM2442.46 1188.30h5.923v3.70h-5.923zM2449.63 1188.30h5.923v3.70h-5.923zM2456.79 1188.30h5.923v3.70h-5.923zM2463.95 1188.30h5.923v3.70h-5.923zM2471.12 1188.30h5.923v3.70h-5.923zM2478.28 1188.30h5.923v3.70h-5.923zM2485.44 1188.30h5.923v3.70h-5.923zM2492.61 1188.30h5.923v3.70h-5.923zM2499.77 1188.30h5.923v3.70h-5.923zM2506.93 1188.30h5.923v3.70h-5.923zM2514.09 1188.30h5.923v3.70h-5.923zM2521.26 1188.30h5.923v3.70h-5.923zM2528.42 1188.30h5.923v3.70h-5.923zM2535.58 1188.30h5.923v3.70h-5.923zM2542.75 1188.30h5.923v3.70h-5.923zM2549.91 1188.30h5.923v3.70h-5.923zM2557.07 1188.30h5.923v3.70h-5.923zM2564.23 1188.30h5.923v3.70h-5.923zM2571.40 1188.30h5.923v3.70h-5.923zM2578.56 1188.30h5.923v3.70h-5.923zM2585.72 1188.30h5.923v3.70h-5.923zM2592.89 1188.30h5.923v3.70h-5.923zM2600.05 1188.30h5.923v3.70h-5.923zM2607.21 1188.50h5.923v3.50h-5.923zM2614.38 1188.50h5.923v3.50h-5.923zM2621.54 1188.50h5.923v3.50h-5.923zM2628.70 1179.60h5.923v5.00h-5.923zM2635.86 1182.70h5.923v3.70h-5.923zM2650.19 1182.10h5.923v3.10h-5.923zM2657.35 1179.60h5.923v8.70h-5.923zM2664.52 1188.50h5.923v3.50h-5.923zM2671.68 1188.50h5.923v3.50h-5.923zM2678.84 1188.50h5.923v3.50h-5.923zM2686.01 1188.50h5.923v3.50h-5.923zM2693.17 1188.50h5.923v3.50h-5.923zM2700.33 1188.50h5.923v3.50h-5.923zM2707.49 1188.50h5.923v3.50h-5.923zM2714.66 1188.50h5.923v3.50h-5.923zM2721.82 1188.50h5.923v3.50h-5.923zM2728.98 1188.50h5.923v3.50h-5.923zM2736.15 1188.50h5.923v3.50h-5.923zM2743.31 1188.50h5.923v3.50h-5.923zM2750.47 1188.50h5.923v3.50h-5.923zM2757.63 1188.50h5.923v3.50h-5.923zM2764.80 1188.50h5.923v3.50h-5.923zM2779.12 1188.50h5.923v3.50h-5.923zM2786.29 1188.50h5.923v3.50h-5.923zM2793.45 1188.50h5.923v3.50h-5.923zM2800.61 1188.50h5.923v3.50h-5.923zM2807.78 1188.50h5.923v3.50h-5.923zM2814.94 1188.50h5.923v3.50h-5.923zM2822.10 1188.50h5.923v3.50h-5.923zM2829.26 1188.50h5.923v3.50h-5.923zM2836.43 1188.50h5.923v3.50h-5.923zM2843.59 1188.50h5.923v3.50h-5.923zM2850.75 1188.50h5.923v3.50h-5.923zM2857.92 1188.50h5.923v3.50h-5.923zM2865.08 1188.50h5.923v3.50h-5.923zM2872.24 1188.50h5.923v3.50h-5.923zM2879.41 1188.50h5.923v3.50h-5.923zM2886.57 1188.50h5.923v3.50h-5.923zM2893.73 1188.50h5.923v3.50h-5.923zM2900.89 1188.50h5.923v3.50h-5.923zM2908.06 1188.50h5.923v3.50h-5.923z" fill="#94c6f0" stroke="#2b68b0" stroke-width="1.25"/><path d="M2643.03 1186.80h5.923v1.50h-5.923zM2771.96 1186.20h5.923v1.50h-5.923z" fill="#94c6f0" stroke="#2b68b0" stroke-width="0.8"/></g><g><path d="M558.61 1033.50h5.923v33.90h-5.923zM565.77 1035.50h5.923v46.00h-5.923zM572.93 671.40h5.923v414.30h-5.923zM580.09 603.30h5.923v487.50h-5.923zM587.26 831.40h5.923v278.20h-5.923zM594.42 930.60h5.923v179.00h-5.923zM601.58 864.60h5.923v205.30h-5.923zM608.75 920.50h5.923v171.50h-5.923zM615.91 950.70h5.923v145.10h-5.923zM623.07 889.60h5.923v182.80h-5.923zM630.23 960.70h5.923v136.80h-5.923zM637.40 974.50h5.923v123.80h-5.923zM644.56 986.40h5.923v112.60h-5.923zM651.72 995.50h5.923v106.60h-5.923zM658.89 991.30h5.923v104.70h-5.923zM666.05 1015.40h5.923v100.70h-5.923zM673.21 969.10h5.923v153.80h-5.923zM680.38 1038.30h5.923v84.60h-5.923zM687.54 1047.30h5.923v83.60h-5.923zM694.70 1043.10h5.923v84.00h-5.923zM701.86 1075.30h5.923v61.90h-5.923zM709.03 1110.60h5.923v38.30h-5.923zM716.19 1133.40h5.923v29.60h-5.923zM723.35 1142.30h5.923v22.40h-5.923zM730.52 1144.00h5.923v22.20h-5.923zM737.68 1141.30h5.923v24.90h-5.923zM744.84 1144.40h5.923v21.80h-5.923zM752.01 1145.50h5.923v20.70h-5.923zM759.17 1146.50h5.923v20.80h-5.923zM766.33 1128.60h5.923v23.20h-5.923zM773.49 1136.20h5.923v26.80h-5.923zM780.66 1116.50h5.923v34.50h-5.923zM787.82 1119.00h5.923v36.60h-5.923zM794.98 1123.30h5.923v31.30h-5.923zM802.15 1125.00h5.923v26.80h-5.923zM809.31 1144.60h5.923v19.90h-5.923zM816.47 1143.00h5.923v19.00h-5.923zM823.63 1132.40h5.923v21.10h-5.923zM830.80 1132.40h5.923v19.00h-5.923zM837.96 1129.20h5.923v19.70h-5.923zM845.12 1141.90h5.923v19.00h-5.923zM852.29 1148.20h5.923v14.20h-5.923zM859.45 1150.80h5.923v15.90h-5.923zM866.61 1150.80h5.923v13.50h-5.923zM873.78 1155.90h5.923v12.70h-5.923zM880.94 1152.40h5.923v15.40h-5.923zM888.10 1150.80h5.923v15.10h-5.923zM895.26 1156.40h5.923v13.50h-5.923zM902.43 1152.40h5.923v13.50h-5.923zM909.59 1152.40h5.923v12.70h-5.923zM916.75 1155.60h5.923v12.20h-5.923zM923.92 1161.60h5.923v12.20h-5.923zM931.08 1148.80h5.923v12.00h-5.923zM938.24 1121.50h5.923v11.90h-5.923zM945.41 1146.90h5.923v14.30h-5.923zM952.57 1148.50h5.923v13.50h-5.923zM959.73 1152.40h5.923v13.50h-5.923zM966.89 1141.30h5.923v21.90h-5.923zM974.06 1136.60h5.923v21.90h-5.923zM981.22 1150.00h5.923v13.20h-5.923zM988.38 1147.70h5.923v13.50h-5.923zM995.55 1138.60h5.923v19.90h-5.923zM1002.71 1138.60h5.923v16.70h-5.923zM1009.87 1102.90h5.923v16.70h-5.923zM1017.03 1138.60h5.923v13.80h-5.923zM1024.20 1146.40h5.923v13.60h-5.923zM1031.36 1144.80h5.923v15.20h-5.923zM1038.52 1137.40h5.923v14.70h-5.923zM1045.69 1142.10h5.923v14.30h-5.923zM1052.85 1148.50h5.923v11.50h-5.923zM1060.01 1151.20h5.923v13.90h-5.923zM1067.18 1132.60h5.923v25.90h-5.923zM1074.34 1131.50h5.923v24.90h-5.923zM1081.50 1133.60h5.923v25.70h-5.923zM1088.66 1124.80h5.923v19.40h-5.923zM1095.83 1137.70h5.923v18.30h-5.923zM1102.99 1130.90h5.923v13.00h-5.923zM1110.15 1136.80h5.923v15.70h-5.923zM1117.32 1136.80h5.923v18.60h-5.923zM1124.48 1138.90h5.923v12.00h-5.923zM1131.64 1143.90h5.923v12.10h-5.923zM1138.81 1129.10h5.923v11.10h-5.923zM1145.97 1138.70h5.923v11.30h-5.923zM1153.13 1141.40h5.923v13.30h-5.923zM1160.29 1132.80h5.923v17.90h-5.923zM1167.46 1145.10h5.923v16.30h-5.923zM1174.62 1146.00h5.923v12.30h-5.923zM1181.78 1152.80h5.923v11.40h-5.923zM1188.95 1158.70h5.923v11.70h-5.923zM1196.11 1147.60h5.923v16.60h-5.923zM1203.27 1145.70h5.923v15.40h-5.923zM1210.43 1155.00h5.923v9.80h-5.923zM1217.60 1161.80h5.923v8.00h-5.923zM1224.76 1159.70h5.923v7.40h-5.923zM1231.92 1156.80h5.923v9.90h-5.923zM1239.09 1160.90h5.923v9.50h-5.923zM1246.25 1152.50h5.923v11.70h-5.923zM1253.41 1120.40h5.923v16.70h-5.923zM1260.58 1129.70h5.923v11.10h-5.923zM1267.74 1138.60h5.923v10.00h-5.923zM1274.90 1157.40h5.923v6.80h-5.923zM1282.06 1151.30h5.923v10.50h-5.923zM1289.23 1147.00h5.923v9.20h-5.923zM1296.39 1155.60h5.923v10.80h-5.923zM1303.55 1155.90h5.923v12.60h-5.923zM1310.72 1146.50h5.923v14.70h-5.923zM1317.88 1160.50h5.923v9.70h-5.923zM1325.04 1160.70h5.923v11.20h-5.923zM1332.21 1160.50h5.923v9.50h-5.923zM1339.37 1140.80h5.923v17.80h-5.923zM1346.53 1134.50h5.923v14.10h-5.923zM1353.69 1137.90h5.923v10.40h-5.923zM1360.86 1149.60h5.923v11.10h-5.923zM1368.02 1143.50h5.923v14.80h-5.923zM1375.18 1147.40h5.923v13.80h-5.923zM1382.35 1147.40h5.923v14.30h-5.923zM1389.51 1153.40h5.923v11.50h-5.923zM1396.67 1144.70h5.923v15.30h-5.923zM1403.83 1157.30h5.923v10.50h-5.923zM1411.00 1157.80h5.923v11.70h-5.923zM1418.16 1150.80h5.923v12.40h-5.923zM1425.32 1144.70h5.923v10.70h-5.923zM1432.49 1156.80h5.923v11.20h-5.923zM1439.65 1151.80h5.923v10.40h-5.923zM1446.81 1159.80h5.923v9.20h-5.923zM1453.98 1160.10h5.923v8.20h-5.923zM1461.14 1162.70h5.923v9.00h-5.923zM1468.30 1157.80h5.923v13.60h-5.923zM1475.46 1146.80h5.923v24.90h-5.923zM1482.63 1143.10h5.923v23.00h-5.923zM1489.79 1146.70h5.923v15.30h-5.923zM1496.95 1147.10h5.923v15.10h-5.923zM1504.12 1158.80h5.923v11.20h-5.923zM1511.28 1154.90h5.923v10.20h-5.923zM1518.44 1158.80h5.923v11.40h-5.923zM1525.61 1161.70h5.923v7.80h-5.923zM1532.77 1156.80h5.923v15.10h-5.923zM1539.93 1145.70h5.923v21.80h-5.923zM1547.09 1128.40h5.923v40.30h-5.923zM1554.26 1102.50h5.923v60.70h-5.923zM1561.42 1124.70h5.923v33.30h-5.923zM1568.58 1134.50h5.923v32.70h-5.923zM1575.75 1120.60h5.923v40.70h-5.923zM1582.91 1094.50h5.923v42.60h-5.923zM1590.07 1115.80h5.923v30.20h-5.923zM1597.23 1124.10h5.923v32.60h-5.923zM1604.40 1119.70h5.923v33.10h-5.923zM1611.56 1141.90h5.923v18.90h-5.923zM1618.72 1139.50h5.923v18.50h-5.923zM1625.89 1147.40h5.923v20.80h-5.923zM1633.05 1161.70h5.923v11.10h-5.923zM1640.21 1144.10h5.923v18.10h-5.923zM1647.38 1146.90h5.923v20.90h-5.923zM1654.54 1139.50h5.923v21.80h-5.923zM1661.70 1142.30h5.923v19.40h-5.923zM1668.86 1127.10h5.923v30.00h-5.923zM1676.03 1129.30h5.923v28.70h-5.923zM1683.19 1141.90h5.923v17.00h-5.923zM1690.35 1140.40h5.923v12.60h-5.923zM1697.52 1118.20h5.923v26.80h-5.923zM1704.68 1147.40h5.923v19.80h-5.923zM1711.84 1148.40h5.923v19.80h-5.923zM1719.01 1143.20h5.923v20.30h-5.923zM1726.17 1154.30h5.923v15.70h-5.923zM1733.33 1162.60h5.923v10.20h-5.923zM1740.49 1163.50h5.923v9.30h-5.923zM1747.66 1157.10h5.923v12.60h-5.923zM1754.82 1156.70h5.923v10.50h-5.923zM1761.98 1157.10h5.923v13.80h-5.923zM1769.15 1154.80h5.923v12.40h-5.923zM1776.31 1149.70h5.923v16.20h-5.923zM1783.47 1155.20h5.923v13.90h-5.923zM1790.63 1168.40h5.923v10.20h-5.923zM1797.80 1166.30h5.923v8.90h-5.923zM1804.96 1167.70h5.923v8.20h-5.923zM1812.12 1156.50h5.923v10.50h-5.923zM1819.29 1169.50h5.923v6.40h-5.923zM1826.45 1164.30h5.923v7.50h-5.923zM1833.61 1167.30h5.923v5.80h-5.923zM1840.78 1166.30h5.923v7.50h-5.923zM1847.94 1169.70h5.923v7.50h-5.923zM1855.10 1172.50h5.923v5.20h-5.923zM1862.26 1165.40h5.923v8.40h-5.923zM1869.43 1168.60h5.923v5.90h-5.923zM1876.59 1173.10h5.923v5.10h-5.923zM1883.75 1158.50h5.923v11.00h-5.923zM1890.92 1174.90h5.923v5.80h-5.923zM1898.08 1164.30h5.923v8.20h-5.923zM1905.24 1162.90h5.923v8.90h-5.923zM1912.41 1156.10h5.923v6.80h-5.923zM1919.57 1160.20h5.923v8.20h-5.923zM1926.73 1166.70h5.923v5.10h-5.923zM1933.89 1165.40h5.923v6.40h-5.923zM1941.06 1170.40h5.923v7.50h-5.923zM1948.22 1160.20h5.923v6.80h-5.923zM1955.38 1149.90h5.923v8.20h-5.923zM1962.55 1167.70h5.923v6.80h-5.923zM1969.71 1160.90h5.923v4.70h-5.923zM1976.87 1158.80h5.923v6.60h-5.923zM1984.03 1169.70h5.923v6.20h-5.923zM1991.20 1167.70h5.923v5.90h-5.923zM1998.36 1165.60h5.923v4.50h-5.923zM2005.52 1159.20h5.923v9.60h-5.923zM2012.69 1164.30h5.923v9.00h-5.923zM2019.85 1162.40h5.923v9.60h-5.923zM2027.01 1171.40h5.923v4.40h-5.923zM2034.18 1163.40h5.923v9.20h-5.923zM2041.34 1166.90h5.923v6.40h-5.923zM2048.50 1168.20h5.923v5.70h-5.923zM2055.66 1162.40h5.923v4.50h-5.923zM2062.83 1166.90h5.923v5.10h-5.923zM2069.99 1170.70h5.923v5.80h-5.923zM2077.15 1168.20h5.923v4.40h-5.923zM2084.32 1165.60h5.923v4.50h-5.923zM2091.48 1163.70h5.923v8.30h-5.923zM2098.64 1172.60h5.923v4.50h-5.923zM2105.81 1172.00h5.923v6.40h-5.923zM2112.97 1168.80h5.923v5.10h-5.923zM2120.13 1167.50h5.923v6.40h-5.923zM2127.29 1172.60h5.923v3.90h-5.923zM2134.46 1173.30h5.923v4.50h-5.923zM2141.62 1172.60h5.923v5.80h-5.923zM2148.78 1170.10h5.923v7.00h-5.923zM2155.95 1178.40h5.923v3.20h-5.923zM2163.11 1172.60h5.923v3.90h-5.923zM2170.27 1175.80h5.923v5.80h-5.923zM2177.43 1178.40h5.923v3.20h-5.923zM2213.25 1177.40h5.923v3.80h-5.923zM2227.58 1167.50h5.923v4.90h-5.923zM2249.06 1182.30h5.923v3.30h-5.923zM2256.23 1180.70h5.923v3.30h-5.923zM2270.55 1179.60h5.923v3.30h-5.923zM2306.37 1178.50h5.923v4.40h-5.923zM2313.53 1180.70h5.923v3.30h-5.923zM2320.69 1178.50h5.923v5.50h-5.923zM2342.18 1180.10h5.923v3.90h-5.923zM2349.35 1177.40h5.923v3.80h-5.923zM2385.16 1180.10h5.923v3.30h-5.923z" fill="#dc93d4" stroke="#80205f" stroke-width="1.25"/><path d="M2184.60 1179.70h5.923v1.90h-5.923zM2191.76 1180.90h5.923v2.00h-5.923zM2198.92 1181.20h5.923v1.70h-5.923zM2206.09 1182.30h5.923v1.70h-5.923zM2220.41 1180.70h5.923v2.70h-5.923zM2234.74 1177.90h5.923v2.20h-5.923zM2241.90 1180.70h5.923v2.20h-5.923zM2263.39 1182.90h5.923v2.70h-5.923zM2277.72 1182.90h5.923v2.20h-5.923zM2284.88 1184.00h5.923v2.20h-5.923zM2292.04 1181.80h5.923v2.20h-5.923zM2299.21 1182.30h5.923v2.80h-5.923zM2327.86 1182.90h5.923v2.20h-5.923zM2335.02 1178.50h5.923v1.10h-5.923zM2356.51 1182.30h5.923v1.70h-5.923zM2363.67 1183.40h5.923v2.20h-5.923zM2370.83 1185.10h5.923v2.20h-5.923zM2378.00 1182.30h5.923v1.10h-5.923zM2392.32 1183.40h5.923v2.80h-5.923zM2399.49 1183.40h5.923v2.80h-5.923zM2406.65 1187.00h5.923v1.30h-5.923zM2413.81 1187.00h5.923v1.30h-5.923zM2420.98 1187.00h5.923v1.30h-5.923zM2428.14 1187.00h5.923v1.30h-5.923zM2435.30 1187.00h5.923v1.30h-5.923zM2442.46 1187.00h5.923v1.30h-5.923zM2449.63 1187.00h5.923v1.30h-5.923zM2456.79 1187.00h5.923v1.30h-5.923zM2463.95 1187.00h5.923v1.30h-5.923zM2471.12 1187.00h5.923v1.30h-5.923zM2478.28 1187.00h5.923v1.30h-5.923zM2485.44 1187.00h5.923v1.30h-5.923zM2492.61 1187.00h5.923v1.30h-5.923zM2499.77 1187.00h5.923v1.30h-5.923zM2506.93 1187.00h5.923v1.30h-5.923zM2514.09 1187.00h5.923v1.30h-5.923zM2521.26 1187.00h5.923v1.30h-5.923zM2528.42 1187.00h5.923v1.30h-5.923zM2535.58 1187.00h5.923v1.30h-5.923zM2542.75 1187.00h5.923v1.30h-5.923zM2549.91 1187.00h5.923v1.30h-5.923zM2557.07 1187.00h5.923v1.30h-5.923zM2564.23 1187.00h5.923v1.30h-5.923zM2571.40 1187.00h5.923v1.30h-5.923zM2578.56 1187.00h5.923v1.30h-5.923zM2585.72 1187.00h5.923v1.30h-5.923zM2592.89 1187.00h5.923v1.30h-5.923zM2600.05 1187.00h5.923v1.30h-5.923zM2607.21 1187.30h5.923v1.20h-5.923zM2614.38 1187.30h5.923v1.20h-5.923zM2621.54 1187.30h5.923v1.20h-5.923zM2628.70 1178.40h5.923v1.20h-5.923zM2635.86 1181.50h5.923v1.20h-5.923zM2643.03 1185.60h5.923v1.20h-5.923zM2650.19 1180.90h5.923v1.20h-5.923zM2657.35 1178.40h5.923v1.20h-5.923zM2664.52 1187.30h5.923v1.20h-5.923zM2671.68 1187.30h5.923v1.20h-5.923zM2678.84 1187.30h5.923v1.20h-5.923zM2686.01 1187.30h5.923v1.20h-5.923zM2693.17 1187.30h5.923v1.20h-5.923zM2700.33 1187.30h5.923v1.20h-5.923zM2707.49 1187.30h5.923v1.20h-5.923zM2714.66 1187.30h5.923v1.20h-5.923zM2721.82 1187.30h5.923v1.20h-5.923zM2728.98 1187.30h5.923v1.20h-5.923zM2736.15 1187.30h5.923v1.20h-5.923zM2743.31 1187.30h5.923v1.20h-5.923zM2750.47 1187.30h5.923v1.20h-5.923zM2757.63 1187.30h5.923v1.20h-5.923zM2764.80 1187.30h5.923v1.20h-5.923zM2771.96 1185.00h5.923v1.20h-5.923zM2779.12 1187.30h5.923v1.20h-5.923zM2786.29 1187.30h5.923v1.20h-5.923zM2793.45 1187.30h5.923v1.20h-5.923zM2800.61 1187.30h5.923v1.20h-5.923zM2807.78 1187.30h5.923v1.20h-5.923zM2814.94 1187.30h5.923v1.20h-5.923zM2822.10 1187.30h5.923v1.20h-5.923zM2829.26 1187.30h5.923v1.20h-5.923zM2836.43 1187.30h5.923v1.20h-5.923zM2843.59 1187.30h5.923v1.20h-5.923zM2850.75 1187.30h5.923v1.20h-5.923zM2857.92 1187.30h5.923v1.20h-5.923zM2865.08 1187.30h5.923v1.20h-5.923zM2872.24 1187.30h5.923v1.20h-5.923zM2879.41 1187.30h5.923v1.20h-5.923zM2886.57 1187.30h5.923v1.20h-5.923zM2893.73 1187.30h5.923v1.20h-5.923zM2900.89 1187.30h5.923v1.20h-5.923zM2908.06 1187.30h5.923v1.20h-5.923z" fill="#dc93d4" stroke="#80205f" stroke-width="0.8"/></g><g><path d="M780.66 1080.60h5.923v35.90h-5.923zM787.82 1057.30h5.923v61.70h-5.923zM794.98 1101.30h5.923v22.00h-5.923zM802.15 1107.40h5.923v17.60h-5.923zM809.31 1128.60h5.923v16.00h-5.923zM816.47 1120.10h5.923v22.90h-5.923zM823.63 818.40h5.923v314.00h-5.923zM830.80 741.50h5.923v390.90h-5.923zM837.96 877.60h5.923v251.60h-5.923zM845.12 964.70h5.923v177.20h-5.923zM852.29 1023.50h5.923v124.70h-5.923zM859.45 1065.50h5.923v85.30h-5.923zM866.61 1073.40h5.923v77.40h-5.923zM873.78 1090.60h5.923v65.30h-5.923zM880.94 1081.50h5.923v70.90h-5.923zM888.10 1096.40h5.923v54.40h-5.923zM895.26 1086.60h5.923v69.80h-5.923zM902.43 1094.20h5.923v58.20h-5.923zM909.59 1096.40h5.923v56.00h-5.923zM916.75 1104.50h5.923v51.10h-5.923zM923.92 1118.30h5.923v43.30h-5.923zM931.08 1101.40h5.923v47.40h-5.923zM938.24 1080.30h5.923v41.20h-5.923zM945.41 1109.60h5.923v37.30h-5.923zM952.57 1115.20h5.923v33.30h-5.923zM959.73 1116.30h5.923v36.10h-5.923zM966.89 1107.20h5.923v34.10h-5.923zM974.06 1096.60h5.923v40.00h-5.923zM981.22 1119.60h5.923v30.40h-5.923zM988.38 1106.40h5.923v41.30h-5.923zM995.55 1085.30h5.923v53.30h-5.923zM1002.71 1104.50h5.923v34.10h-5.923zM1009.87 1075.50h5.923v27.40h-5.923zM1017.03 1107.20h5.923v31.40h-5.923zM1024.20 1118.30h5.923v28.10h-5.923zM1031.36 1114.70h5.923v30.10h-5.923zM1038.52 1106.40h5.923v31.00h-5.923zM1045.69 1120.40h5.923v21.70h-5.923zM1052.85 1123.60h5.923v24.90h-5.923zM1060.01 1131.50h5.923v19.70h-5.923zM1067.18 1110.70h5.923v21.90h-5.923zM1074.34 1110.40h5.923v21.10h-5.923zM1081.50 1113.70h5.923v19.90h-5.923zM1088.66 1104.70h5.923v20.10h-5.923zM1095.83 1117.60h5.923v20.10h-5.923zM1102.99 1110.60h5.923v20.30h-5.923zM1110.15 1117.60h5.923v19.20h-5.923zM1117.32 1118.30h5.923v18.50h-5.923zM1124.48 1119.50h5.923v19.40h-5.923zM1131.64 1125.40h5.923v18.50h-5.923zM1138.81 1112.80h5.923v16.30h-5.923zM1145.97 1117.40h5.923v21.30h-5.923zM1153.13 1117.40h5.923v24.00h-5.923zM1160.29 1110.00h5.923v22.80h-5.923zM1167.46 1125.00h5.923v20.10h-5.923zM1174.62 1131.50h5.923v14.50h-5.923zM1181.78 1135.90h5.923v16.90h-5.923zM1188.95 1140.80h5.923v17.90h-5.923zM1196.11 1131.50h5.923v16.10h-5.923zM1203.27 1129.10h5.923v16.60h-5.923zM1210.43 1137.70h5.923v17.30h-5.923zM1217.60 1146.30h5.923v15.50h-5.923zM1224.76 1146.30h5.923v13.40h-5.923zM1231.92 1130.30h5.923v26.50h-5.923zM1239.09 1129.70h5.923v31.20h-5.923zM1246.25 1124.80h5.923v27.70h-5.923zM1253.41 1102.60h5.923v17.80h-5.923zM1260.58 1113.00h5.923v16.70h-5.923zM1267.74 1122.90h5.923v15.70h-5.923zM1274.90 1142.00h5.923v15.40h-5.923zM1282.06 1136.50h5.923v14.80h-5.923zM1289.23 1135.20h5.923v11.80h-5.923zM1296.39 1142.10h5.923v13.50h-5.923zM1303.55 1142.30h5.923v13.60h-5.923zM1310.72 1135.80h5.923v10.70h-5.923zM1317.88 1145.20h5.923v15.30h-5.923zM1325.04 1143.70h5.923v17.00h-5.923zM1332.21 1145.70h5.923v14.80h-5.923zM1339.37 1124.60h5.923v16.20h-5.923zM1346.53 1119.00h5.923v15.50h-5.923zM1353.69 1124.80h5.923v13.10h-5.923zM1360.86 1137.90h5.923v11.70h-5.923zM1368.02 1123.20h5.923v20.30h-5.923zM1375.18 1133.10h5.923v14.30h-5.923zM1382.35 1133.10h5.923v14.30h-5.923zM1389.51 1140.80h5.923v12.60h-5.923zM1396.67 1131.40h5.923v13.30h-5.923zM1403.83 1147.10h5.923v10.20h-5.923zM1411.00 1147.10h5.923v10.70h-5.923zM1418.16 1137.40h5.923v13.40h-5.923zM1425.32 1134.80h5.923v9.90h-5.923zM1432.49 1145.70h5.923v11.10h-5.923zM1439.65 1140.10h5.923v11.70h-5.923zM1446.81 1145.70h5.923v14.10h-5.923zM1453.98 1149.10h5.923v11.00h-5.923zM1461.14 1150.00h5.923v12.70h-5.923zM1468.30 1146.20h5.923v11.60h-5.923zM1475.46 1131.10h5.923v15.70h-5.923zM1482.63 1127.70h5.923v15.40h-5.923zM1489.79 1136.50h5.923v10.20h-5.923zM1496.95 1139.90h5.923v7.20h-5.923zM1504.12 1151.80h5.923v7.00h-5.923zM1511.28 1146.90h5.923v8.00h-5.923zM1518.44 1149.40h5.923v9.40h-5.923zM1525.61 1153.40h5.923v8.30h-5.923zM1532.77 1144.20h5.923v12.60h-5.923zM1539.93 1107.80h5.923v37.90h-5.923zM1547.09 1037.40h5.923v91.00h-5.923zM1554.26 1000.70h5.923v101.80h-5.923zM1561.42 1081.20h5.923v43.50h-5.923zM1568.58 1099.30h5.923v35.20h-5.923zM1575.75 1089.50h5.923v31.10h-5.923zM1582.91 1054.90h5.923v39.60h-5.923zM1590.07 1089.00h5.923v26.80h-5.923zM1597.23 1102.10h5.923v22.00h-5.923zM1604.40 1094.70h5.923v25.00h-5.923zM1611.56 1122.80h5.923v19.10h-5.923zM1618.72 1121.90h5.923v17.60h-5.923zM1625.89 1134.90h5.923v12.50h-5.923zM1633.05 1150.60h5.923v11.10h-5.923zM1640.21 1130.80h5.923v13.30h-5.923zM1647.38 1133.00h5.923v13.90h-5.923zM1654.54 1120.60h5.923v18.90h-5.923zM1661.70 1121.00h5.923v21.30h-5.923zM1668.86 1108.00h5.923v19.10h-5.923zM1676.03 1102.90h5.923v26.40h-5.923zM1683.19 1122.80h5.923v19.10h-5.923zM1690.35 1128.00h5.923v12.40h-5.923zM1697.52 1101.60h5.923v16.60h-5.923zM1704.68 1126.50h5.923v20.90h-5.923zM1711.84 1134.90h5.923v13.50h-5.923zM1719.01 1132.10h5.923v11.10h-5.923zM1726.17 1143.70h5.923v10.60h-5.923zM1733.33 1153.90h5.923v8.70h-5.923zM1740.49 1155.20h5.923v8.30h-5.923zM1747.66 1147.80h5.923v9.30h-5.923zM1754.82 1147.80h5.923v8.90h-5.923zM1761.98 1143.20h5.923v13.90h-5.923zM1769.15 1147.40h5.923v7.40h-5.923zM1776.31 1139.50h5.923v10.20h-5.923zM1783.47 1148.40h5.923v6.80h-5.923zM1790.63 1159.90h5.923v8.50h-5.923zM1797.80 1157.70h5.923v8.60h-5.923zM1804.96 1157.40h5.923v10.30h-5.923zM1812.12 1146.20h5.923v10.30h-5.923zM1819.29 1155.80h5.923v13.70h-5.923zM1826.45 1151.70h5.923v12.60h-5.923zM1833.61 1156.50h5.923v10.80h-5.923zM1840.78 1155.10h5.923v11.20h-5.923zM1847.94 1159.90h5.923v9.80h-5.923zM1855.10 1159.90h5.923v12.60h-5.923zM1862.26 1143.10h5.923v22.30h-5.923zM1869.43 1160.90h5.923v7.70h-5.923zM1876.59 1166.70h5.923v6.40h-5.923zM1883.75 1151.70h5.923v6.80h-5.923zM1890.92 1166.70h5.923v8.20h-5.923zM1898.08 1159.50h5.923v4.80h-5.923zM1905.24 1154.70h5.923v8.20h-5.923zM1912.41 1147.60h5.923v8.50h-5.923zM1919.57 1154.00h5.923v6.20h-5.923zM1926.73 1161.50h5.923v5.20h-5.923zM1933.89 1161.90h5.923v3.50h-5.923zM1941.06 1158.10h5.923v12.30h-5.923zM1948.22 1146.50h5.923v13.70h-5.923zM1955.38 1140.80h5.923v9.10h-5.923zM1962.55 1157.20h5.923v10.50h-5.923zM1969.71 1151.70h5.923v9.20h-5.923zM1976.87 1150.30h5.923v8.50h-5.923zM1984.03 1161.30h5.923v8.40h-5.923zM1991.20 1156.80h5.923v10.90h-5.923zM1998.36 1157.30h5.923v8.30h-5.923zM2005.52 1148.40h5.923v10.80h-5.923zM2012.69 1150.90h5.923v13.40h-5.923zM2019.85 1152.20h5.923v10.20h-5.923zM2027.01 1156.70h5.923v14.70h-5.923zM2034.18 1152.20h5.923v11.20h-5.923zM2041.34 1151.60h5.923v15.30h-5.923zM2048.50 1149.00h5.923v19.20h-5.923zM2055.66 1154.80h5.923v7.60h-5.923zM2062.83 1159.20h5.923v7.70h-5.923zM2069.99 1165.60h5.923v5.10h-5.923zM2077.15 1163.10h5.923v5.10h-5.923zM2084.32 1157.30h5.923v8.30h-5.923zM2091.48 1158.60h5.923v5.10h-5.923zM2098.64 1168.20h5.923v4.40h-5.923zM2105.81 1167.30h5.923v4.70h-5.923zM2112.97 1163.40h5.923v5.40h-5.923zM2120.13 1162.40h5.923v5.10h-5.923zM2127.29 1168.80h5.923v3.80h-5.923zM2134.46 1165.60h5.923v7.70h-5.923zM2141.62 1166.90h5.923v5.70h-5.923zM2148.78 1166.30h5.923v3.80h-5.923zM2155.95 1172.60h5.923v5.80h-5.923zM2163.11 1166.90h5.923v5.70h-5.923zM2170.27 1172.60h5.923v3.20h-5.923zM2177.43 1173.90h5.923v4.50h-5.923zM2184.60 1175.80h5.923v3.90h-5.923zM2191.76 1177.80h5.923v3.10h-5.923zM2206.09 1179.00h5.923v3.30h-5.923zM2213.25 1174.10h5.923v3.30h-5.923zM2220.41 1176.30h5.923v4.40h-5.923zM2227.58 1163.10h5.923v4.40h-5.923zM2234.74 1174.10h5.923v3.80h-5.923zM2241.90 1175.70h5.923v5.00h-5.923zM2249.06 1177.90h5.923v4.40h-5.923zM2256.23 1173.50h5.923v7.20h-5.923zM2263.39 1178.50h5.923v4.40h-5.923zM2270.55 1175.70h5.923v3.90h-5.923zM2277.72 1179.00h5.923v3.90h-5.923zM2284.88 1180.70h5.923v3.30h-5.923zM2292.04 1176.30h5.923v5.50h-5.923zM2299.21 1174.10h5.923v8.20h-5.923zM2306.37 1173.50h5.923v5.00h-5.923zM2313.53 1175.70h5.923v5.00h-5.923zM2320.69 1175.20h5.923v3.30h-5.923zM2327.86 1178.50h5.923v4.40h-5.923zM2335.02 1175.20h5.923v3.30h-5.923zM2342.18 1175.70h5.923v4.40h-5.923zM2349.35 1172.40h5.923v5.00h-5.923zM2378.00 1179.00h5.923v3.30h-5.923zM2392.32 1180.10h5.923v3.30h-5.923zM2399.49 1180.10h5.923v3.30h-5.923z" fill="#6ebfac" stroke="#2c7366" stroke-width="1.25"/><path d="M2198.92 1178.50h5.923v2.70h-5.923zM2356.51 1179.60h5.923v2.70h-5.923zM2363.67 1180.70h5.923v2.70h-5.923zM2370.83 1182.30h5.923v2.80h-5.923zM2385.16 1177.40h5.923v2.70h-5.923zM2406.65 1185.80h5.923v1.20h-5.923zM2413.81 1185.80h5.923v1.20h-5.923zM2420.98 1185.80h5.923v1.20h-5.923zM2428.14 1185.80h5.923v1.20h-5.923zM2435.30 1185.80h5.923v1.20h-5.923zM2442.46 1185.80h5.923v1.20h-5.923zM2449.63 1185.80h5.923v1.20h-5.923zM2456.79 1185.80h5.923v1.20h-5.923zM2463.95 1185.80h5.923v1.20h-5.923zM2471.12 1185.80h5.923v1.20h-5.923zM2478.28 1185.80h5.923v1.20h-5.923zM2485.44 1185.80h5.923v1.20h-5.923zM2492.61 1185.80h5.923v1.20h-5.923zM2499.77 1185.80h5.923v1.20h-5.923zM2506.93 1185.80h5.923v1.20h-5.923zM2514.09 1185.80h5.923v1.20h-5.923zM2521.26 1185.80h5.923v1.20h-5.923zM2528.42 1185.80h5.923v1.20h-5.923zM2535.58 1185.80h5.923v1.20h-5.923zM2542.75 1185.80h5.923v1.20h-5.923zM2549.91 1185.80h5.923v1.20h-5.923zM2557.07 1185.80h5.923v1.20h-5.923zM2564.23 1185.80h5.923v1.20h-5.923zM2571.40 1185.80h5.923v1.20h-5.923zM2578.56 1185.80h5.923v1.20h-5.923zM2585.72 1185.80h5.923v1.20h-5.923zM2592.89 1185.80h5.923v1.20h-5.923zM2600.05 1185.80h5.923v1.20h-5.923zM2607.21 1186.10h5.923v1.20h-5.923zM2614.38 1186.10h5.923v1.20h-5.923zM2621.54 1186.10h5.923v1.20h-5.923zM2628.70 1177.20h5.923v1.20h-5.923zM2635.86 1180.30h5.923v1.20h-5.923zM2643.03 1184.40h5.923v1.20h-5.923zM2650.19 1179.70h5.923v1.20h-5.923zM2657.35 1177.20h5.923v1.20h-5.923zM2664.52 1186.10h5.923v1.20h-5.923zM2671.68 1186.10h5.923v1.20h-5.923zM2678.84 1186.10h5.923v1.20h-5.923zM2686.01 1186.10h5.923v1.20h-5.923zM2693.17 1186.10h5.923v1.20h-5.923zM2700.33 1186.10h5.923v1.20h-5.923zM2707.49 1186.10h5.923v1.20h-5.923zM2714.66 1186.10h5.923v1.20h-5.923zM2721.82 1186.10h5.923v1.20h-5.923zM2728.98 1186.10h5.923v1.20h-5.923zM2736.15 1186.10h5.923v1.20h-5.923zM2743.31 1186.10h5.923v1.20h-5.923zM2750.47 1186.10h5.923v1.20h-5.923zM2757.63 1186.10h5.923v1.20h-5.923zM2764.80 1186.10h5.923v1.20h-5.923zM2771.96 1183.80h5.923v1.20h-5.923zM2779.12 1186.10h5.923v1.20h-5.923zM2786.29 1186.10h5.923v1.20h-5.923zM2793.45 1186.10h5.923v1.20h-5.923zM2800.61 1186.10h5.923v1.20h-5.923zM2807.78 1186.10h5.923v1.20h-5.923zM2814.94 1186.10h5.923v1.20h-5.923zM2822.10 1186.10h5.923v1.20h-5.923zM2829.26 1186.10h5.923v1.20h-5.923zM2836.43 1186.10h5.923v1.20h-5.923zM2843.59 1186.10h5.923v1.20h-5.923zM2850.75 1186.10h5.923v1.20h-5.923zM2857.92 1186.10h5.923v1.20h-5.923zM2865.08 1186.10h5.923v1.20h-5.923zM2872.24 1186.10h5.923v1.20h-5.923zM2879.41 1186.10h5.923v1.20h-5.923zM2886.57 1186.10h5.923v1.20h-5.923zM2893.73 1186.10h5.923v1.20h-5.923zM2900.89 1186.10h5.923v1.20h-5.923zM2908.06 1186.10h5.923v1.20h-5.923z" fill="#6ebfac" stroke="#2c7366" stroke-width="0.8"/></g><g><path d="M1110.15 908.60h5.923v209.00h-5.923zM1117.32 1020.60h5.923v97.70h-5.923zM1124.48 1055.30h5.923v64.20h-5.923zM1131.64 1077.50h5.923v47.90h-5.923zM1138.81 980.70h5.923v132.10h-5.923zM1145.97 890.00h5.923v227.40h-5.923zM1153.13 1020.60h5.923v96.80h-5.923zM1160.29 1042.50h5.923v67.50h-5.923zM1167.46 1080.60h5.923v44.40h-5.923zM1174.62 1094.50h5.923v37.00h-5.923zM1181.78 1101.70h5.923v34.20h-5.923zM1188.95 1109.60h5.923v31.20h-5.923zM1196.11 1099.50h5.923v32.00h-5.923zM1203.27 1097.40h5.923v31.70h-5.923zM1210.43 1111.80h5.923v25.90h-5.923zM1217.60 1118.60h5.923v27.70h-5.923zM1224.76 1124.80h5.923v21.50h-5.923zM1231.92 1110.60h5.923v19.70h-5.923zM1239.09 1107.50h5.923v22.20h-5.923zM1246.25 1103.80h5.923v21.00h-5.923zM1253.41 1084.40h5.923v18.20h-5.923zM1260.58 1094.80h5.923v18.20h-5.923zM1267.74 1105.60h5.923v17.30h-5.923zM1274.90 1128.50h5.923v13.50h-5.923zM1282.06 1122.70h5.923v13.80h-5.923zM1289.23 1120.40h5.923v14.80h-5.923zM1296.39 1128.20h5.923v13.90h-5.923zM1303.55 1126.60h5.923v15.70h-5.923zM1310.72 1122.40h5.923v13.40h-5.923zM1317.88 1131.40h5.923v13.80h-5.923zM1325.04 1129.50h5.923v14.20h-5.923zM1332.21 1133.40h5.923v12.30h-5.923zM1339.37 1111.20h5.923v13.40h-5.923zM1346.53 1107.30h5.923v11.70h-5.923zM1353.69 1114.10h5.923v10.70h-5.923zM1360.86 1126.60h5.923v11.30h-5.923zM1368.02 1109.30h5.923v13.90h-5.923zM1375.18 1122.40h5.923v10.70h-5.923zM1382.35 1123.40h5.923v9.70h-5.923zM1389.51 1133.50h5.923v7.30h-5.923zM1396.67 1123.40h5.923v8.00h-5.923zM1403.83 1136.50h5.923v10.60h-5.923zM1411.00 1139.90h5.923v7.20h-5.923zM1418.16 1119.50h5.923v17.90h-5.923zM1425.32 1094.20h5.923v40.60h-5.923zM1432.49 1132.10h5.923v13.60h-5.923zM1439.65 1127.70h5.923v12.40h-5.923zM1446.81 1133.50h5.923v12.20h-5.923zM1453.98 1139.90h5.923v9.20h-5.923zM1461.14 1141.10h5.923v8.90h-5.923zM1468.30 1138.70h5.923v7.50h-5.923zM1475.46 1121.90h5.923v9.20h-5.923zM1482.63 1121.90h5.923v5.80h-5.923zM1489.79 1129.70h5.923v6.80h-5.923zM1496.95 1128.70h5.923v11.20h-5.923zM1504.12 1143.10h5.923v8.70h-5.923zM1511.28 1136.70h5.923v10.20h-5.923zM1518.44 1144.00h5.923v5.40h-5.923zM1525.61 1145.20h5.923v8.20h-5.923zM1532.77 1135.00h5.923v9.20h-5.923zM1539.93 1101.50h5.923v6.30h-5.923zM1547.09 1030.30h5.923v7.10h-5.923zM1554.26 993.30h5.923v7.40h-5.923zM1561.42 1073.40h5.923v7.80h-5.923zM1568.58 1089.50h5.923v9.80h-5.923zM1575.75 1077.50h5.923v12.00h-5.923zM1582.91 1044.60h5.923v10.30h-5.923zM1590.07 1077.50h5.923v11.50h-5.923zM1597.23 1094.50h5.923v7.60h-5.923zM1604.40 1083.60h5.923v11.10h-5.923zM1611.56 1111.70h5.923v11.10h-5.923zM1618.72 1113.20h5.923v8.70h-5.923zM1625.89 1127.50h5.923v7.40h-5.923zM1633.05 1145.60h5.923v5.00h-5.923zM1640.21 1122.50h5.923v8.30h-5.923zM1647.38 1128.00h5.923v5.00h-5.923zM1654.54 1108.40h5.923v12.20h-5.923zM1661.70 1115.80h5.923v5.20h-5.923zM1668.86 1098.40h5.923v9.60h-5.923zM1676.03 1096.60h5.923v6.30h-5.923zM1683.19 1115.80h5.923v7.00h-5.923zM1690.35 1120.60h5.923v7.40h-5.923zM1697.52 1095.60h5.923v6.00h-5.923zM1704.68 1119.50h5.923v7.00h-5.923zM1711.84 1129.90h5.923v5.00h-5.923zM1719.01 1127.50h5.923v4.60h-5.923zM1726.17 1138.20h5.923v5.50h-5.923zM1733.33 1149.70h5.923v4.20h-5.923zM1747.66 1143.20h5.923v4.60h-5.923zM1754.82 1144.10h5.923v3.70h-5.923zM1761.98 1139.50h5.923v3.70h-5.923zM1812.12 1142.10h5.923v4.10h-5.923zM1819.29 1150.30h5.923v5.50h-5.923zM1826.45 1145.40h5.923v6.30h-5.923zM1840.78 1149.20h5.923v5.90h-5.923zM1847.94 1155.80h5.923v4.10h-5.923zM1855.10 1152.70h5.923v7.20h-5.923zM1862.26 1136.30h5.923v6.80h-5.923zM1869.43 1151.70h5.923v9.20h-5.923zM1876.59 1161.50h5.923v5.20h-5.923zM1883.75 1146.50h5.923v5.20h-5.923zM1898.08 1153.10h5.923v6.40h-5.923zM1912.41 1143.80h5.923v3.80h-5.923zM2062.83 1155.40h5.923v3.80h-5.923z" fill="#6596c9" stroke="#1d4780" stroke-width="1.25"/><path d="M1740.49 1152.40h5.923v2.80h-5.923zM1769.15 1145.60h5.923v1.80h-5.923zM1776.31 1137.60h5.923v1.90h-5.923zM1783.47 1147.40h5.923v1.00h-5.923zM1790.63 1158.50h5.923v1.40h-5.923zM1797.80 1156.50h5.923v1.20h-5.923zM1804.96 1156.50h5.923v0.90h-5.923zM1833.61 1155.40h5.923v1.10h-5.923zM1890.92 1164.70h5.923v2.00h-5.923zM1905.24 1153.10h5.923v1.60h-5.923zM1919.57 1153.10h5.923v0.90h-5.923zM1926.73 1158.80h5.923v2.70h-5.923zM1933.89 1160.90h5.923v1.00h-5.923zM1941.06 1157.40h5.923v0.70h-5.923zM1948.22 1144.90h5.923v1.60h-5.923zM1955.38 1138.30h5.923v2.50h-5.923zM1962.55 1156.80h5.923v0.40h-5.923zM1969.71 1149.90h5.923v1.80h-5.923zM1976.87 1149.20h5.923v1.10h-5.923zM1984.03 1160.20h5.923v1.10h-5.923zM1991.20 1155.80h5.923v1.00h-5.923zM1998.36 1155.40h5.923v1.90h-5.923zM2005.52 1147.10h5.923v1.30h-5.923zM2012.69 1149.00h5.923v1.90h-5.923zM2019.85 1150.30h5.923v1.90h-5.923zM2027.01 1155.80h5.923v0.90h-5.923zM2034.18 1150.90h5.923v1.30h-5.923zM2041.34 1150.30h5.923v1.30h-5.923zM2048.50 1148.40h5.923v0.60h-5.923zM2055.66 1153.50h5.923v1.30h-5.923zM2069.99 1164.10h5.923v1.50h-5.923zM2077.15 1162.20h5.923v0.90h-5.923zM2084.32 1155.40h5.923v1.90h-5.923zM2091.48 1157.30h5.923v1.30h-5.923zM2098.64 1166.90h5.923v1.30h-5.923zM2105.81 1166.30h5.923v1.00h-5.923zM2112.97 1162.40h5.923v1.00h-5.923zM2120.13 1161.10h5.923v1.30h-5.923zM2127.29 1167.50h5.923v1.30h-5.923zM2134.46 1163.70h5.923v1.90h-5.923zM2141.62 1165.60h5.923v1.30h-5.923zM2148.78 1165.00h5.923v1.30h-5.923zM2155.95 1172.00h5.923v0.60h-5.923zM2163.11 1165.60h5.923v1.30h-5.923zM2170.27 1172.00h5.923v0.60h-5.923zM2177.43 1173.30h5.923v0.60h-5.923zM2184.60 1175.20h5.923v0.60h-5.923zM2191.76 1177.10h5.923v0.70h-5.923zM2198.92 1177.90h5.923v0.60h-5.923zM2206.09 1178.50h5.923v0.50h-5.923zM2213.25 1173.00h5.923v1.10h-5.923zM2220.41 1174.60h5.923v1.70h-5.923zM2227.58 1160.90h5.923v2.20h-5.923zM2234.74 1173.00h5.923v1.10h-5.923zM2241.90 1174.60h5.923v1.10h-5.923zM2249.06 1176.30h5.923v1.60h-5.923zM2256.23 1171.90h5.923v1.60h-5.923zM2263.39 1177.40h5.923v1.10h-5.923zM2270.55 1174.60h5.923v1.10h-5.923zM2277.72 1177.40h5.923v1.60h-5.923zM2284.88 1179.00h5.923v1.70h-5.923zM2292.04 1174.60h5.923v1.70h-5.923zM2299.21 1173.00h5.923v1.10h-5.923zM2306.37 1171.90h5.923v1.60h-5.923zM2313.53 1174.10h5.923v1.60h-5.923zM2320.69 1174.10h5.923v1.10h-5.923zM2327.86 1175.70h5.923v2.80h-5.923zM2335.02 1173.50h5.923v1.70h-5.923zM2342.18 1173.50h5.923v2.20h-5.923zM2349.35 1169.70h5.923v2.70h-5.923zM2356.51 1179.00h5.923v0.60h-5.923zM2363.67 1179.60h5.923v1.10h-5.923zM2370.83 1181.80h5.923v0.50h-5.923zM2378.00 1177.90h5.923v1.10h-5.923zM2385.16 1176.30h5.923v1.10h-5.923zM2392.32 1179.00h5.923v1.10h-5.923zM2399.49 1179.00h5.923v1.10h-5.923zM2406.65 1184.60h5.923v1.20h-5.923zM2413.81 1184.60h5.923v1.20h-5.923zM2420.98 1184.60h5.923v1.20h-5.923zM2428.14 1184.60h5.923v1.20h-5.923zM2435.30 1184.60h5.923v1.20h-5.923zM2442.46 1184.60h5.923v1.20h-5.923zM2449.63 1184.60h5.923v1.20h-5.923zM2456.79 1184.60h5.923v1.20h-5.923zM2463.95 1184.60h5.923v1.20h-5.923zM2471.12 1184.60h5.923v1.20h-5.923zM2478.28 1184.60h5.923v1.20h-5.923zM2485.44 1184.60h5.923v1.20h-5.923zM2492.61 1184.60h5.923v1.20h-5.923zM2499.77 1184.60h5.923v1.20h-5.923zM2506.93 1184.60h5.923v1.20h-5.923zM2514.09 1184.60h5.923v1.20h-5.923zM2521.26 1184.60h5.923v1.20h-5.923zM2528.42 1184.60h5.923v1.20h-5.923zM2535.58 1184.60h5.923v1.20h-5.923zM2542.75 1184.60h5.923v1.20h-5.923zM2549.91 1184.60h5.923v1.20h-5.923zM2557.07 1184.60h5.923v1.20h-5.923zM2564.23 1184.60h5.923v1.20h-5.923zM2571.40 1184.60h5.923v1.20h-5.923zM2578.56 1184.60h5.923v1.20h-5.923zM2585.72 1184.60h5.923v1.20h-5.923zM2592.89 1184.60h5.923v1.20h-5.923zM2600.05 1184.60h5.923v1.20h-5.923zM2607.21 1184.90h5.923v1.20h-5.923zM2614.38 1184.90h5.923v1.20h-5.923zM2621.54 1184.90h5.923v1.20h-5.923zM2628.70 1176.00h5.923v1.20h-5.923zM2635.86 1179.10h5.923v1.20h-5.923zM2643.03 1183.20h5.923v1.20h-5.923zM2650.19 1178.50h5.923v1.20h-5.923zM2657.35 1176.00h5.923v1.20h-5.923zM2664.52 1184.90h5.923v1.20h-5.923zM2671.68 1184.90h5.923v1.20h-5.923zM2678.84 1184.90h5.923v1.20h-5.923zM2686.01 1184.90h5.923v1.20h-5.923zM2693.17 1184.90h5.923v1.20h-5.923zM2700.33 1184.90h5.923v1.20h-5.923zM2707.49 1184.90h5.923v1.20h-5.923zM2714.66 1184.90h5.923v1.20h-5.923zM2721.82 1184.90h5.923v1.20h-5.923zM2728.98 1184.90h5.923v1.20h-5.923zM2736.15 1184.90h5.923v1.20h-5.923zM2743.31 1184.90h5.923v1.20h-5.923zM2750.47 1184.90h5.923v1.20h-5.923zM2757.63 1184.90h5.923v1.20h-5.923zM2764.80 1184.90h5.923v1.20h-5.923zM2771.96 1182.60h5.923v1.20h-5.923zM2779.12 1184.90h5.923v1.20h-5.923zM2786.29 1184.90h5.923v1.20h-5.923zM2793.45 1184.90h5.923v1.20h-5.923zM2800.61 1184.90h5.923v1.20h-5.923zM2807.78 1184.90h5.923v1.20h-5.923zM2814.94 1184.90h5.923v1.20h-5.923zM2822.10 1184.90h5.923v1.20h-5.923zM2829.26 1184.90h5.923v1.20h-5.923zM2836.43 1184.90h5.923v1.20h-5.923zM2843.59 1184.90h5.923v1.20h-5.923zM2850.75 1184.90h5.923v1.20h-5.923zM2857.92 1184.90h5.923v1.20h-5.923zM2865.08 1184.90h5.923v1.20h-5.923zM2872.24 1184.90h5.923v1.20h-5.923zM2879.41 1184.90h5.923v1.20h-5.923zM2886.57 1184.90h5.923v1.20h-5.923zM2893.73 1184.90h5.923v1.20h-5.923zM2900.89 1184.90h5.923v1.20h-5.923zM2908.06 1184.90h5.923v1.20h-5.923z" fill="#6596c9" stroke="#1d4780" stroke-width="0.8"/></g><g><path d="M1912.41 1063.90h5.923v79.90h-5.923zM1919.57 1119.90h5.923v33.20h-5.923zM1926.73 1132.20h5.923v26.60h-5.923zM1933.89 1142.80h5.923v18.10h-5.923zM1941.06 1136.70h5.923v20.70h-5.923zM1948.22 1127.40h5.923v17.50h-5.923zM1955.38 1111.70h5.923v26.60h-5.923zM1962.55 1134.00h5.923v22.80h-5.923zM1969.71 1115.50h5.923v34.40h-5.923zM1976.87 1108.30h5.923v40.90h-5.923zM1984.03 1132.90h5.923v27.30h-5.923zM1991.20 1109.60h5.923v46.20h-5.923zM1998.36 1118.30h5.923v37.10h-5.923zM2005.52 1113.90h5.923v33.20h-5.923zM2012.69 1092.20h5.923v56.80h-5.923zM2019.85 1074.90h5.923v75.40h-5.923zM2027.01 1082.60h5.923v73.20h-5.923zM2034.18 1089.60h5.923v61.30h-5.923zM2041.34 1107.50h5.923v42.80h-5.923zM2048.50 1105.60h5.923v42.80h-5.923zM2055.66 1100.50h5.923v53.00h-5.923zM2062.83 1114.80h5.923v40.60h-5.923zM2069.99 1125.40h5.923v38.70h-5.923zM2077.15 1132.40h5.923v29.80h-5.923zM2084.32 1114.50h5.923v40.90h-5.923zM2091.48 1125.40h5.923v31.90h-5.923zM2098.64 1140.70h5.923v26.20h-5.923zM2105.81 1143.60h5.923v22.70h-5.923zM2112.97 1143.90h5.923v18.50h-5.923zM2120.13 1142.60h5.923v18.50h-5.923zM2127.29 1154.10h5.923v13.40h-5.923zM2134.46 1148.10h5.923v15.60h-5.923zM2141.62 1150.30h5.923v15.30h-5.923zM2148.78 1148.40h5.923v16.60h-5.923zM2155.95 1158.60h5.923v13.40h-5.923zM2163.11 1151.60h5.923v14.00h-5.923zM2170.27 1161.10h5.923v10.90h-5.923zM2177.43 1164.30h5.923v9.00h-5.923zM2184.60 1166.30h5.923v8.90h-5.923zM2191.76 1169.40h5.923v7.70h-5.923zM2198.92 1164.20h5.923v13.70h-5.923zM2206.09 1171.90h5.923v6.60h-5.923zM2213.25 1164.20h5.923v8.80h-5.923zM2220.41 1168.00h5.923v6.60h-5.923zM2227.58 1156.50h5.923v4.40h-5.923zM2234.74 1166.40h5.923v6.60h-5.923zM2241.90 1170.80h5.923v3.80h-5.923zM2249.06 1172.40h5.923v3.90h-5.923zM2256.23 1168.60h5.923v3.30h-5.923zM2263.39 1174.10h5.923v3.30h-5.923zM2270.55 1171.30h5.923v3.30h-5.923zM2277.72 1172.40h5.923v5.00h-5.923zM2284.88 1174.60h5.923v4.40h-5.923zM2292.04 1170.20h5.923v4.40h-5.923zM2299.21 1169.70h5.923v3.30h-5.923zM2306.37 1168.00h5.923v3.90h-5.923zM2320.69 1170.20h5.923v3.90h-5.923zM2327.86 1171.90h5.923v3.80h-5.923zM2335.02 1166.90h5.923v6.60h-5.923zM2342.18 1170.20h5.923v3.30h-5.923zM2349.35 1166.40h5.923v3.30h-5.923zM2356.51 1175.70h5.923v3.30h-5.923zM2370.83 1178.50h5.923v3.30h-5.923zM2378.00 1174.60h5.923v3.30h-5.923zM2385.16 1172.40h5.923v3.90h-5.923zM2392.32 1175.70h5.923v3.30h-5.923zM2406.65 1171.70h5.923v12.90h-5.923zM2413.81 1178.80h5.923v5.80h-5.923zM2420.98 1181.30h5.923v3.30h-5.923zM2449.63 1179.30h5.923v5.30h-5.923zM2471.12 1180.80h5.923v3.80h-5.923zM2492.61 1178.30h5.923v6.30h-5.923zM2600.05 1179.30h5.923v5.30h-5.923zM2621.54 1180.80h5.923v4.10h-5.923zM2635.86 1172.80h5.923v6.30h-5.923zM2657.35 1172.80h5.923v3.20h-5.923zM2664.52 1181.50h5.923v3.40h-5.923zM2721.82 1180.80h5.923v4.10h-5.923z" fill="#a82a1a" stroke="#8a1e10" stroke-width="1.25"/><path d="M2313.53 1171.90h5.923v2.20h-5.923zM2363.67 1177.90h5.923v1.70h-5.923zM2399.49 1176.30h5.923v2.70h-5.923zM2428.14 1182.80h5.923v1.80h-5.923zM2435.30 1182.30h5.923v2.30h-5.923zM2442.46 1182.30h5.923v2.30h-5.923zM2456.79 1182.80h5.923v1.80h-5.923zM2463.95 1181.80h5.923v2.80h-5.923zM2478.28 1183.30h5.923v1.30h-5.923zM2485.44 1182.30h5.923v2.30h-5.923zM2499.77 1182.30h5.923v2.30h-5.923zM2506.93 1182.30h5.923v2.30h-5.923zM2514.09 1182.30h5.923v2.30h-5.923zM2521.26 1182.30h5.923v2.30h-5.923zM2528.42 1182.30h5.923v2.30h-5.923zM2535.58 1182.30h5.923v2.30h-5.923zM2542.75 1182.30h5.923v2.30h-5.923zM2549.91 1183.30h5.923v1.30h-5.923zM2557.07 1183.30h5.923v1.30h-5.923zM2564.23 1183.30h5.923v1.30h-5.923zM2571.40 1183.30h5.923v1.30h-5.923zM2578.56 1183.30h5.923v1.30h-5.923zM2585.72 1183.30h5.923v1.30h-5.923zM2592.89 1183.30h5.923v1.30h-5.923zM2607.21 1182.70h5.923v2.20h-5.923zM2614.38 1182.10h5.923v2.80h-5.923zM2628.70 1174.00h5.923v2.00h-5.923zM2643.03 1180.20h5.923v3.00h-5.923zM2650.19 1177.10h5.923v1.40h-5.923zM2671.68 1183.30h5.923v1.60h-5.923zM2678.84 1184.20h5.923v0.70h-5.923zM2686.01 1182.10h5.923v2.80h-5.923zM2693.17 1184.20h5.923v0.70h-5.923zM2700.33 1184.20h5.923v0.70h-5.923zM2707.49 1184.20h5.923v0.70h-5.923zM2714.66 1184.20h5.923v0.70h-5.923zM2728.98 1184.20h5.923v0.70h-5.923zM2736.15 1184.20h5.923v0.70h-5.923zM2743.31 1183.30h5.923v1.60h-5.923zM2750.47 1184.20h5.923v0.70h-5.923zM2757.63 1184.20h5.923v0.70h-5.923zM2764.80 1184.20h5.923v0.70h-5.923zM2771.96 1180.80h5.923v1.80h-5.923zM2779.12 1184.20h5.923v0.70h-5.923zM2786.29 1184.20h5.923v0.70h-5.923zM2793.45 1184.40h5.923v0.50h-5.923zM2800.61 1184.20h5.923v0.70h-5.923zM2807.78 1184.20h5.923v0.70h-5.923zM2814.94 1184.20h5.923v0.70h-5.923zM2822.10 1184.20h5.923v0.70h-5.923zM2829.26 1184.20h5.923v0.70h-5.923zM2836.43 1184.20h5.923v0.70h-5.923zM2843.59 1184.20h5.923v0.70h-5.923zM2850.75 1184.20h5.923v0.70h-5.923zM2857.92 1184.20h5.923v0.70h-5.923zM2865.08 1184.20h5.923v0.70h-5.923zM2872.24 1184.20h5.923v0.70h-5.923zM2879.41 1184.20h5.923v0.70h-5.923zM2886.57 1184.20h5.923v0.70h-5.923zM2893.73 1184.20h5.923v0.70h-5.923zM2900.89 1184.20h5.923v0.70h-5.923zM2908.06 1184.20h5.923v0.70h-5.923z" fill="#a82a1a" stroke="#8a1e10" stroke-width="0.8"/></g><g><path d="M2148.78 1089.00h5.923v59.40h-5.923zM2155.95 1104.90h5.923v53.70h-5.923zM2163.11 1106.20h5.923v45.40h-5.923zM2170.27 1124.10h5.923v37.00h-5.923zM2177.43 1126.00h5.923v38.30h-5.923zM2184.60 1124.10h5.923v42.20h-5.923zM2191.76 1135.00h5.923v34.40h-5.923zM2198.92 1139.20h5.923v25.00h-5.923zM2206.09 1128.40h5.923v43.50h-5.923zM2213.25 1120.70h5.923v43.50h-5.923zM2220.41 1128.40h5.923v39.60h-5.923zM2227.58 1133.90h5.923v22.60h-5.923zM2234.74 1121.80h5.923v44.60h-5.923zM2241.90 1141.60h5.923v29.20h-5.923zM2249.06 1151.60h5.923v20.80h-5.923zM2256.23 1148.70h5.923v19.90h-5.923zM2263.39 1159.20h5.923v14.90h-5.923zM2270.55 1155.40h5.923v15.90h-5.923zM2277.72 1157.00h5.923v15.40h-5.923zM2284.88 1159.80h5.923v14.80h-5.923zM2292.04 1153.10h5.923v17.10h-5.923zM2299.21 1151.50h5.923v18.20h-5.923zM2306.37 1154.20h5.923v13.80h-5.923zM2313.53 1157.60h5.923v14.30h-5.923zM2320.69 1154.20h5.923v16.00h-5.923zM2327.86 1157.00h5.923v14.90h-5.923zM2335.02 1151.50h5.923v15.40h-5.923zM2342.18 1154.80h5.923v15.40h-5.923zM2349.35 1150.90h5.923v15.50h-5.923zM2356.51 1165.30h5.923v10.40h-5.923zM2363.67 1166.40h5.923v11.50h-5.923zM2370.83 1166.90h5.923v11.60h-5.923zM2378.00 1164.70h5.923v9.90h-5.923zM2385.16 1163.10h5.923v9.30h-5.923zM2392.32 1164.70h5.923v11.00h-5.923zM2399.49 1165.80h5.923v10.50h-5.923zM2406.65 1165.10h5.923v6.60h-5.923zM2413.81 1171.70h5.923v7.10h-5.923zM2420.98 1177.30h5.923v4.00h-5.923zM2428.14 1177.80h5.923v5.00h-5.923zM2435.30 1177.80h5.923v4.50h-5.923zM2442.46 1174.70h5.923v7.60h-5.923zM2449.63 1173.70h5.923v5.60h-5.923zM2456.79 1179.80h5.923v3.00h-5.923zM2463.95 1177.80h5.923v4.00h-5.923zM2471.12 1170.70h5.923v10.10h-5.923zM2478.28 1177.80h5.923v5.50h-5.923zM2492.61 1172.70h5.923v5.60h-5.923zM2499.77 1177.80h5.923v4.50h-5.923zM2528.42 1178.80h5.923v3.50h-5.923zM2535.58 1177.80h5.923v4.50h-5.923zM2542.75 1178.80h5.923v3.50h-5.923zM2564.23 1180.30h5.923v3.00h-5.923zM2571.40 1180.30h5.923v3.00h-5.923zM2578.56 1179.80h5.923v3.50h-5.923zM2592.89 1180.30h5.923v3.00h-5.923zM2600.05 1175.70h5.923v3.60h-5.923zM2607.21 1179.00h5.923v3.70h-5.923zM2614.38 1179.00h5.923v3.10h-5.923zM2621.54 1177.10h5.923v3.70h-5.923zM2628.70 1170.30h5.923v3.70h-5.923zM2643.03 1177.10h5.923v3.10h-5.923zM2650.19 1174.00h5.923v3.10h-5.923zM2707.49 1180.80h5.923v3.40h-5.923zM2714.66 1178.30h5.923v5.90h-5.923zM2721.82 1177.10h5.923v3.70h-5.923zM2728.98 1180.80h5.923v3.40h-5.923zM2736.15 1179.00h5.923v5.20h-5.923zM2743.31 1179.00h5.923v4.30h-5.923zM2779.12 1181.00h5.923v3.20h-5.923zM2908.06 1181.00h5.923v3.20h-5.923z" fill="#f09c36" stroke="#c07824" stroke-width="1.25"/><path d="M2077.15 1129.80h5.923v2.60h-5.923zM2141.62 1149.00h5.923v1.30h-5.923zM2485.44 1179.80h5.923v2.50h-5.923zM2506.93 1179.80h5.923v2.50h-5.923zM2514.09 1180.30h5.923v2.00h-5.923zM2521.26 1180.30h5.923v2.00h-5.923zM2549.91 1181.80h5.923v1.50h-5.923zM2557.07 1181.30h5.923v2.00h-5.923zM2585.72 1181.80h5.923v1.50h-5.923zM2635.86 1170.90h5.923v1.90h-5.923zM2657.35 1170.90h5.923v1.90h-5.923zM2664.52 1181.00h5.923v0.50h-5.923zM2671.68 1182.80h5.923v0.50h-5.923zM2678.84 1183.30h5.923v0.90h-5.923zM2686.01 1181.60h5.923v0.50h-5.923zM2693.17 1183.70h5.923v0.50h-5.923zM2700.33 1181.50h5.923v2.70h-5.923zM2750.47 1183.70h5.923v0.50h-5.923zM2757.63 1183.70h5.923v0.50h-5.923zM2771.96 1180.30h5.923v0.50h-5.923zM2793.45 1183.90h5.923v0.50h-5.923zM2800.61 1183.20h5.923v1.00h-5.923zM2807.78 1183.70h5.923v0.50h-5.923zM2814.94 1183.20h5.923v1.00h-5.923zM2822.10 1182.70h5.923v1.50h-5.923zM2829.26 1183.70h5.923v0.50h-5.923zM2836.43 1183.20h5.923v1.00h-5.923zM2843.59 1182.10h5.923v2.10h-5.923zM2850.75 1183.70h5.923v0.50h-5.923zM2857.92 1183.70h5.923v0.50h-5.923zM2865.08 1182.70h5.923v1.50h-5.923zM2872.24 1183.70h5.923v0.50h-5.923zM2879.41 1183.70h5.923v0.50h-5.923zM2886.57 1183.70h5.923v0.50h-5.923zM2893.73 1182.70h5.923v1.50h-5.923zM2900.89 1183.70h5.923v0.50h-5.923z" fill="#f09c36" stroke="#c07824" stroke-width="0.8"/></g><g><path d="M2385.16 1152.60h5.923v10.50h-5.923zM2392.32 1111.80h5.923v52.90h-5.923zM2399.49 1110.20h5.923v55.60h-5.923zM2406.65 1131.70h5.923v33.40h-5.923zM2413.81 1142.30h5.923v29.40h-5.923zM2420.98 1146.40h5.923v30.90h-5.923zM2428.14 1155.00h5.923v22.80h-5.923zM2435.30 1155.50h5.923v22.30h-5.923zM2442.46 1151.40h5.923v23.30h-5.923zM2449.63 1159.50h5.923v14.20h-5.923zM2456.79 1166.60h5.923v13.20h-5.923zM2463.95 1167.10h5.923v10.70h-5.923zM2471.12 1162.60h5.923v8.10h-5.923zM2478.28 1169.20h5.923v8.60h-5.923zM2485.44 1168.10h5.923v11.70h-5.923zM2492.61 1164.10h5.923v8.60h-5.923zM2499.77 1170.20h5.923v7.60h-5.923zM2506.93 1173.20h5.923v6.60h-5.923zM2514.09 1173.20h5.923v7.10h-5.923zM2521.26 1173.20h5.923v7.10h-5.923zM2528.42 1171.70h5.923v7.10h-5.923zM2535.58 1170.20h5.923v7.60h-5.923zM2542.75 1171.70h5.923v7.10h-5.923zM2549.91 1173.70h5.923v8.10h-5.923zM2557.07 1172.70h5.923v8.60h-5.923zM2564.23 1171.70h5.923v8.60h-5.923zM2571.40 1172.70h5.923v7.60h-5.923zM2578.56 1168.10h5.923v11.70h-5.923zM2585.72 1173.70h5.923v8.10h-5.923zM2592.89 1173.20h5.923v7.10h-5.923zM2600.05 1166.60h5.923v9.10h-5.923zM2607.21 1173.40h5.923v5.60h-5.923zM2614.38 1171.50h5.923v7.50h-5.923zM2621.54 1169.60h5.923v7.50h-5.923zM2628.70 1163.40h5.923v6.90h-5.923zM2635.86 1159.70h5.923v11.20h-5.923zM2643.03 1167.80h5.923v9.30h-5.923zM2650.19 1170.90h5.923v3.10h-5.923zM2657.35 1166.50h5.923v4.40h-5.923zM2664.52 1175.90h5.923v5.10h-5.923zM2671.68 1176.50h5.923v6.30h-5.923zM2678.84 1177.70h5.923v5.60h-5.923zM2700.33 1178.30h5.923v3.20h-5.923zM2707.49 1175.90h5.923v4.90h-5.923zM2714.66 1174.60h5.923v3.70h-5.923zM2721.82 1173.40h5.923v3.70h-5.923zM2728.98 1177.10h5.923v3.70h-5.923zM2736.15 1175.90h5.923v3.10h-5.923zM2743.31 1174.60h5.923v4.40h-5.923z" fill="#8c2a95" stroke="#7e1e6a" stroke-width="1.25"/><path d="M2686.01 1179.00h5.923v2.60h-5.923zM2693.17 1182.10h5.923v1.60h-5.923zM2750.47 1181.50h5.923v2.20h-5.923zM2757.63 1180.80h5.923v2.90h-5.923zM2764.80 1181.50h5.923v2.70h-5.923zM2771.96 1177.70h5.923v2.60h-5.923zM2779.12 1180.50h5.923v0.50h-5.923zM2786.29 1183.80h5.923v0.40h-5.923zM2800.61 1182.70h5.923v0.50h-5.923zM2814.94 1182.70h5.923v0.50h-5.923zM2822.10 1182.20h5.923v0.50h-5.923zM2836.43 1182.70h5.923v0.50h-5.923zM2843.59 1181.60h5.923v0.50h-5.923zM2850.75 1183.30h5.923v0.40h-5.923zM2865.08 1182.20h5.923v0.50h-5.923zM2879.41 1183.30h5.923v0.40h-5.923zM2893.73 1182.20h5.923v0.50h-5.923zM2908.06 1180.50h5.923v0.50h-5.923z" fill="#8c2a95" stroke="#7e1e6a" stroke-width="0.8"/></g><g><path d="M2650.19 1162.20h5.923v8.70h-5.923zM2657.35 1145.40h5.923v21.10h-5.923zM2664.52 1137.60h5.923v38.30h-5.923zM2671.68 1152.90h5.923v23.60h-5.923zM2678.84 1162.20h5.923v15.50h-5.923zM2686.01 1162.20h5.923v16.80h-5.923zM2693.17 1156.00h5.923v26.10h-5.923zM2700.33 1139.20h5.923v39.10h-5.923zM2707.49 1152.30h5.923v23.60h-5.923zM2714.66 1152.30h5.923v22.30h-5.923zM2721.82 1152.90h5.923v20.50h-5.923zM2728.98 1156.60h5.923v20.50h-5.923zM2736.15 1161.00h5.923v14.90h-5.923zM2743.31 1161.60h5.923v13.00h-5.923zM2750.47 1169.60h5.923v11.90h-5.923zM2757.63 1169.60h5.923v11.20h-5.923zM2764.80 1169.00h5.923v12.50h-5.923zM2771.96 1164.10h5.923v13.60h-5.923zM2779.12 1168.00h5.923v12.50h-5.923zM2786.29 1173.20h5.923v10.60h-5.923zM2793.45 1177.80h5.923v6.10h-5.923zM2800.61 1174.60h5.923v8.10h-5.923zM2807.78 1180.50h5.923v3.20h-5.923zM2814.94 1171.80h5.923v10.90h-5.923zM2822.10 1174.80h5.923v7.40h-5.923zM2829.26 1178.90h5.923v4.80h-5.923zM2836.43 1176.50h5.923v6.20h-5.923zM2843.59 1176.70h5.923v4.90h-5.923zM2850.75 1176.70h5.923v6.60h-5.923zM2857.92 1178.90h5.923v4.80h-5.923zM2865.08 1177.80h5.923v4.40h-5.923zM2872.24 1178.90h5.923v4.80h-5.923zM2879.41 1177.80h5.923v5.50h-5.923zM2886.57 1178.90h5.923v4.80h-5.923zM2893.73 1176.70h5.923v5.50h-5.923zM2900.89 1177.80h5.923v5.90h-5.923zM2908.06 1172.40h5.923v8.10h-5.923z" fill="#52ae30" stroke="#35861c" stroke-width="1.25"/></g><g><path d="M1912.41 1050.20h5.923v13.70h-5.923zM1919.57 1115.50h5.923v4.40h-5.923zM2012.69 1086.40h5.923v5.80h-5.923zM2019.85 1066.20h5.923v8.70h-5.923zM2027.01 1073.40h5.923v9.20h-5.923zM2034.18 1082.30h5.923v7.30h-5.923zM2041.34 1099.20h5.923v8.30h-5.923zM2048.50 1102.10h5.923v3.50h-5.923zM2055.66 1097.30h5.923v3.20h-5.923zM2069.99 1121.30h5.923v4.10h-5.923zM2077.15 1122.20h5.923v7.60h-5.923zM2148.78 1081.30h5.923v7.70h-5.923zM2155.95 1101.70h5.923v3.20h-5.923zM2163.11 1102.40h5.923v3.80h-5.923zM2256.23 1145.10h5.923v3.60h-5.923zM2277.72 1153.40h5.923v3.60h-5.923zM2292.04 1148.70h5.923v4.40h-5.923zM2378.00 1161.40h5.923v3.30h-5.923zM2385.16 1145.40h5.923v7.20h-5.923zM2392.32 1092.00h5.923v19.80h-5.923zM2399.49 1087.10h5.923v23.10h-5.923zM2406.65 1115.30h5.923v16.40h-5.923zM2413.81 1130.40h5.923v11.90h-5.923zM2420.98 1133.20h5.923v13.20h-5.923zM2428.14 1144.10h5.923v10.90h-5.923zM2435.30 1148.40h5.923v7.10h-5.923zM2442.46 1138.30h5.923v13.10h-5.923zM2449.63 1148.20h5.923v11.30h-5.923zM2456.79 1160.30h5.923v6.30h-5.923zM2463.95 1163.30h5.923v3.80h-5.923zM2471.12 1157.30h5.923v5.30h-5.923zM2478.28 1161.30h5.923v7.90h-5.923zM2485.44 1158.20h5.923v9.90h-5.923zM2492.61 1156.20h5.923v7.90h-5.923zM2499.77 1163.30h5.923v6.90h-5.923zM2506.93 1163.30h5.923v9.90h-5.923zM2514.09 1164.30h5.923v8.90h-5.923zM2521.26 1165.30h5.923v7.90h-5.923zM2528.42 1164.30h5.923v7.40h-5.923zM2535.58 1161.30h5.923v8.90h-5.923zM2542.75 1161.30h5.923v10.40h-5.923zM2549.91 1166.30h5.923v7.40h-5.923zM2557.07 1162.30h5.923v10.40h-5.923zM2564.23 1161.30h5.923v10.40h-5.923zM2571.40 1156.20h5.923v16.50h-5.923zM2578.56 1153.20h5.923v14.90h-5.923zM2585.72 1163.30h5.923v10.40h-5.923zM2592.89 1163.30h5.923v9.90h-5.923zM2600.05 1158.20h5.923v8.40h-5.923zM2607.21 1167.40h5.923v6.00h-5.923zM2614.38 1165.10h5.923v6.40h-5.923zM2621.54 1163.20h5.923v6.40h-5.923zM2628.70 1159.30h5.923v4.10h-5.923zM2635.86 1155.40h5.923v4.30h-5.923zM2643.03 1161.20h5.923v6.60h-5.923zM2650.19 1157.20h5.923v5.00h-5.923zM2657.35 1139.20h5.923v6.20h-5.923zM2664.52 1132.10h5.923v5.50h-5.923zM2671.68 1147.30h5.923v5.60h-5.923zM2678.84 1154.40h5.923v7.80h-5.923zM2686.01 1155.40h5.923v6.80h-5.923zM2693.17 1148.30h5.923v7.70h-5.923zM2700.33 1132.10h5.923v7.10h-5.923zM2707.49 1145.40h5.923v6.90h-5.923zM2714.66 1144.20h5.923v8.10h-5.923zM2721.82 1149.10h5.923v3.80h-5.923zM2728.98 1152.30h5.923v4.30h-5.923zM2736.15 1157.20h5.923v3.80h-5.923zM2743.31 1158.50h5.923v3.10h-5.923zM2750.47 1166.50h5.923v3.10h-5.923zM2757.63 1166.50h5.923v3.10h-5.923zM2764.80 1161.20h5.923v7.80h-5.923zM2771.96 1157.20h5.923v6.90h-5.923zM2779.12 1164.20h5.923v3.80h-5.923zM2800.61 1171.30h5.923v3.30h-5.923zM2807.78 1177.30h5.923v3.20h-5.923zM2814.94 1166.40h5.923v5.40h-5.923zM2822.10 1168.30h5.923v6.50h-5.923zM2829.26 1174.30h5.923v4.60h-5.923zM2836.43 1173.20h5.923v3.30h-5.923zM2843.59 1173.20h5.923v3.50h-5.923zM2857.92 1174.30h5.923v4.60h-5.923zM2879.41 1174.30h5.923v3.50h-5.923zM2886.57 1174.30h5.923v4.60h-5.923zM2893.73 1173.20h5.923v3.50h-5.923zM2900.89 1174.30h5.923v3.50h-5.923zM2908.06 1167.20h5.923v5.20h-5.923z" fill="#444444" stroke="#505050" stroke-width="1.25"/><path d="M1926.73 1130.50h5.923v1.70h-5.923zM1933.89 1141.70h5.923v1.10h-5.923zM1941.06 1135.60h5.923v1.10h-5.923zM1948.22 1126.00h5.923v1.40h-5.923zM1955.38 1109.00h5.923v2.70h-5.923zM1962.55 1132.90h5.923v1.10h-5.923zM1969.71 1114.40h5.923v1.10h-5.923zM1976.87 1107.30h5.923v1.00h-5.923zM1984.03 1131.50h5.923v1.40h-5.923zM1991.20 1108.30h5.923v1.30h-5.923zM1998.36 1117.10h5.923v1.20h-5.923zM2005.52 1112.30h5.923v1.60h-5.923zM2062.83 1113.20h5.923v1.60h-5.923zM2084.32 1112.20h5.923v2.30h-5.923zM2091.48 1124.10h5.923v1.30h-5.923zM2098.64 1140.10h5.923v0.60h-5.923zM2105.81 1143.00h5.923v0.60h-5.923zM2112.97 1143.30h5.923v0.60h-5.923zM2120.13 1142.00h5.923v0.60h-5.923zM2127.29 1153.50h5.923v0.60h-5.923zM2134.46 1147.30h5.923v0.80h-5.923zM2141.62 1148.40h5.923v0.60h-5.923zM2170.27 1123.50h5.923v0.60h-5.923zM2177.43 1124.70h5.923v1.30h-5.923zM2184.60 1122.60h5.923v1.50h-5.923zM2191.76 1134.30h5.923v0.70h-5.923zM2198.92 1138.80h5.923v0.40h-5.923zM2206.09 1127.80h5.923v0.60h-5.923zM2213.25 1120.10h5.923v0.60h-5.923zM2220.41 1127.80h5.923v0.60h-5.923zM2227.58 1131.70h5.923v2.20h-5.923zM2234.74 1121.20h5.923v0.60h-5.923zM2241.90 1141.00h5.923v0.60h-5.923zM2249.06 1149.30h5.923v2.30h-5.923zM2263.39 1158.40h5.923v0.80h-5.923zM2270.55 1152.60h5.923v2.80h-5.923zM2284.88 1159.20h5.923v0.60h-5.923zM2299.21 1149.80h5.923v1.70h-5.923zM2306.37 1152.60h5.923v1.60h-5.923zM2313.53 1156.50h5.923v1.10h-5.923zM2320.69 1152.60h5.923v1.60h-5.923zM2327.86 1155.40h5.923v1.60h-5.923zM2335.02 1150.40h5.923v1.10h-5.923zM2342.18 1154.20h5.923v0.60h-5.923zM2349.35 1149.30h5.923v1.60h-5.923zM2356.51 1164.20h5.923v1.10h-5.923zM2363.67 1165.80h5.923v0.60h-5.923zM2370.83 1166.40h5.923v0.50h-5.923zM2786.29 1171.30h5.923v1.90h-5.923zM2793.45 1175.40h5.923v2.40h-5.923zM2850.75 1175.40h5.923v1.30h-5.923zM2865.08 1175.10h5.923v2.70h-5.923zM2872.24 1176.20h5.923v2.70h-5.923z" fill="#444444" stroke="#505050" stroke-width="0.8"/></g><rect x="205.5" y="1192.0" width="2709.1" height="2.8" fill="#6c6c6c"/><path d="M207.00 1194.5v5.5M214.16 1194.5v5.5M221.33 1194.5v5.5M228.49 1194.5v5.5M235.65 1194.5v5.5M242.81 1194.5v5.5M249.98 1194.5v5.5M257.14 1194.5v5.5M264.30 1194.5v5.5M271.47 1194.5v5.5M278.63 1194.5v5.5M285.79 1194.5v5.5M292.96 1194.5v5.5M300.12 1194.5v5.5M307.28 1194.5v5.5M314.44 1194.5v5.5M321.61 1194.5v5.5M328.77 1194.5v5.5M335.93 1194.5v5.5M343.10 1194.5v5.5M350.26 1194.5v5.5M357.42 1194.5v5.5M364.59 1194.5v5.5M371.75 1194.5v5.5M378.91 1194.5v5.5M386.07 1194.5v5.5M393.24 1194.5v5.5M400.40 1194.5v5.5M407.56 1194.5v5.5M414.73 1194.5v5.5M421.89 1194.5v5.5M429.05 1194.5v5.5M436.21 1194.5v5.5M443.38 1194.5v5.5M450.54 1194.5v5.5M457.70 1194.5v5.5M464.87 1194.5v5.5M472.03 1194.5v5.5M479.19 1194.5v5.5M486.36 1194.5v5.5M493.52 1194.5v5.5M500.68 1194.5v5.5M507.84 1194.5v5.5M515.01 1194.5v5.5M522.17 1194.5v5.5M529.33 1194.5v5.5M536.50 1194.5v5.5M543.66 1194.5v5.5M550.82 1194.5v5.5M557.99 1194.5v5.5M565.15 1194.5v5.5M572.31 1194.5v5.5M579.47 1194.5v5.5M586.64 1194.5v5.5M593.80 1194.5v5.5M600.96 1194.5v5.5M608.13 1194.5v5.5M615.29 1194.5v5.5M622.45 1194.5v5.5M629.61 1194.5v5.5M636.78 1194.5v5.5M643.94 1194.5v5.5M651.10 1194.5v5.5M658.27 1194.5v5.5M665.43 1194.5v5.5M672.59 1194.5v5.5M679.76 1194.5v5.5M686.92 1194.5v5.5M694.08 1194.5v5.5M701.24 1194.5v5.5M708.41 1194.5v5.5M715.57 1194.5v5.5M722.73 1194.5v5.5M729.90 1194.5v5.5M737.06 1194.5v5.5M744.22 1194.5v5.5M751.39 1194.5v5.5M758.55 1194.5v5.5M765.71 1194.5v5.5M772.87 1194.5v5.5M780.04 1194.5v5.5M787.20 1194.5v5.5M794.36 1194.5v5.5M801.53 1194.5v5.5M808.69 1194.5v5.5M815.85 1194.5v5.5M823.01 1194.5v5.5M830.18 1194.5v5.5M837.34 1194.5v5.5M844.50 1194.5v5.5M851.67 1194.5v5.5M858.83 1194.5v5.5M865.99 1194.5v5.5M873.16 1194.5v5.5M880.32 1194.5v5.5M887.48 1194.5v5.5M894.64 1194.5v5.5M901.81 1194.5v5.5M908.97 1194.5v5.5M916.13 1194.5v5.5M923.30 1194.5v5.5M930.46 1194.5v5.5M937.62 1194.5v5.5M944.79 1194.5v5.5M951.95 1194.5v5.5M959.11 1194.5v5.5M966.27 1194.5v5.5M973.44 1194.5v5.5M980.60 1194.5v5.5M987.76 1194.5v5.5M994.93 1194.5v5.5M1002.09 1194.5v5.5M1009.25 1194.5v5.5M1016.41 1194.5v5.5M1023.58 1194.5v5.5M1030.74 1194.5v5.5M1037.90 1194.5v5.5M1045.07 1194.5v5.5M1052.23 1194.5v5.5M1059.39 1194.5v5.5M1066.56 1194.5v5.5M1073.72 1194.5v5.5M1080.88 1194.5v5.5M1088.04 1194.5v5.5M1095.21 1194.5v5.5M1102.37 1194.5v5.5M1109.53 1194.5v5.5M1116.70 1194.5v5.5M1123.86 1194.5v5.5M1131.02 1194.5v5.5M1138.19 1194.5v5.5M1145.35 1194.5v5.5M1152.51 1194.5v5.5M1159.67 1194.5v5.5M1166.84 1194.5v5.5M1174.00 1194.5v5.5M1181.16 1194.5v5.5M1188.33 1194.5v5.5M1195.49 1194.5v5.5M1202.65 1194.5v5.5M1209.81 1194.5v5.5M1216.98 1194.5v5.5M1224.14 1194.5v5.5M1231.30 1194.5v5.5M1238.47 1194.5v5.5M1245.63 1194.5v5.5M1252.79 1194.5v5.5M1259.96 1194.5v5.5M1267.12 1194.5v5.5M1274.28 1194.5v5.5M1281.44 1194.5v5.5M1288.61 1194.5v5.5M1295.77 1194.5v5.5M1302.93 1194.5v5.5M1310.10 1194.5v5.5M1317.26 1194.5v5.5M1324.42 1194.5v5.5M1331.59 1194.5v5.5M1338.75 1194.5v5.5M1345.91 1194.5v5.5M1353.07 1194.5v5.5M1360.24 1194.5v5.5M1367.40 1194.5v5.5M1374.56 1194.5v5.5M1381.73 1194.5v5.5M1388.89 1194.5v5.5M1396.05 1194.5v5.5M1403.21 1194.5v5.5M1410.38 1194.5v5.5M1417.54 1194.5v5.5M1424.70 1194.5v5.5M1431.87 1194.5v5.5M1439.03 1194.5v5.5M1446.19 1194.5v5.5M1453.36 1194.5v5.5M1460.52 1194.5v5.5M1467.68 1194.5v5.5M1474.84 1194.5v5.5M1482.01 1194.5v5.5M1489.17 1194.5v5.5M1496.33 1194.5v5.5M1503.50 1194.5v5.5M1510.66 1194.5v5.5M1517.82 1194.5v5.5M1524.99 1194.5v5.5M1532.15 1194.5v5.5M1539.31 1194.5v5.5M1546.47 1194.5v5.5M1553.64 1194.5v5.5M1560.80 1194.5v5.5M1567.96 1194.5v5.5M1575.13 1194.5v5.5M1582.29 1194.5v5.5M1589.45 1194.5v5.5M1596.61 1194.5v5.5M1603.78 1194.5v5.5M1610.94 1194.5v5.5M1618.10 1194.5v5.5M1625.27 1194.5v5.5M1632.43 1194.5v5.5M1639.59 1194.5v5.5M1646.76 1194.5v5.5M1653.92 1194.5v5.5M1661.08 1194.5v5.5M1668.24 1194.5v5.5M1675.41 1194.5v5.5M1682.57 1194.5v5.5M1689.73 1194.5v5.5M1696.90 1194.5v5.5M1704.06 1194.5v5.5M1711.22 1194.5v5.5M1718.39 1194.5v5.5M1725.55 1194.5v5.5M1732.71 1194.5v5.5M1739.87 1194.5v5.5M1747.04 1194.5v5.5M1754.20 1194.5v5.5M1761.36 1194.5v5.5M1768.53 1194.5v5.5M1775.69 1194.5v5.5M1782.85 1194.5v5.5M1790.01 1194.5v5.5M1797.18 1194.5v5.5M1804.34 1194.5v5.5M1811.50 1194.5v5.5M1818.67 1194.5v5.5M1825.83 1194.5v5.5M1832.99 1194.5v5.5M1840.16 1194.5v5.5M1847.32 1194.5v5.5M1854.48 1194.5v5.5M1861.64 1194.5v5.5M1868.81 1194.5v5.5M1875.97 1194.5v5.5M1883.13 1194.5v5.5M1890.30 1194.5v5.5M1897.46 1194.5v5.5M1904.62 1194.5v5.5M1911.79 1194.5v5.5M1918.95 1194.5v5.5M1926.11 1194.5v5.5M1933.27 1194.5v5.5M1940.44 1194.5v5.5M1947.60 1194.5v5.5M1954.76 1194.5v5.5M1961.93 1194.5v5.5M1969.09 1194.5v5.5M1976.25 1194.5v5.5M1983.41 1194.5v5.5M1990.58 1194.5v5.5M1997.74 1194.5v5.5M2004.90 1194.5v5.5M2012.07 1194.5v5.5M2019.23 1194.5v5.5M2026.39 1194.5v5.5M2033.56 1194.5v5.5M2040.72 1194.5v5.5M2047.88 1194.5v5.5M2055.04 1194.5v5.5M2062.21 1194.5v5.5M2069.37 1194.5v5.5M2076.53 1194.5v5.5M2083.70 1194.5v5.5M2090.86 1194.5v5.5M2098.02 1194.5v5.5M2105.19 1194.5v5.5M2112.35 1194.5v5.5M2119.51 1194.5v5.5M2126.67 1194.5v5.5M2133.84 1194.5v5.5M2141.00 1194.5v5.5M2148.16 1194.5v5.5M2155.33 1194.5v5.5M2162.49 1194.5v5.5M2169.65 1194.5v5.5M2176.81 1194.5v5.5M2183.98 1194.5v5.5M2191.14 1194.5v5.5M2198.30 1194.5v5.5M2205.47 1194.5v5.5M2212.63 1194.5v5.5M2219.79 1194.5v5.5M2226.96 1194.5v5.5M2234.12 1194.5v5.5M2241.28 1194.5v5.5M2248.44 1194.5v5.5M2255.61 1194.5v5.5M2262.77 1194.5v5.5M2269.93 1194.5v5.5M2277.10 1194.5v5.5M2284.26 1194.5v5.5M2291.42 1194.5v5.5M2298.59 1194.5v5.5M2305.75 1194.5v5.5M2312.91 1194.5v5.5M2320.07 1194.5v5.5M2327.24 1194.5v5.5M2334.40 1194.5v5.5M2341.56 1194.5v5.5M2348.73 1194.5v5.5M2355.89 1194.5v5.5M2363.05 1194.5v5.5M2370.21 1194.5v5.5M2377.38 1194.5v5.5M2384.54 1194.5v5.5M2391.70 1194.5v5.5M2398.87 1194.5v5.5M2406.03 1194.5v5.5M2413.19 1194.5v5.5M2420.36 1194.5v5.5M2427.52 1194.5v5.5M2434.68 1194.5v5.5M2441.84 1194.5v5.5M2449.01 1194.5v5.5M2456.17 1194.5v5.5M2463.33 1194.5v5.5M2470.50 1194.5v5.5M2477.66 1194.5v5.5M2484.82 1194.5v5.5M2491.99 1194.5v5.5M2499.15 1194.5v5.5M2506.31 1194.5v5.5M2513.47 1194.5v5.5M2520.64 1194.5v5.5M2527.80 1194.5v5.5M2534.96 1194.5v5.5M2542.13 1194.5v5.5M2549.29 1194.5v5.5M2556.45 1194.5v5.5M2563.61 1194.5v5.5M2570.78 1194.5v5.5M2577.94 1194.5v5.5M2585.10 1194.5v5.5M2592.27 1194.5v5.5M2599.43 1194.5v5.5M2606.59 1194.5v5.5M2613.76 1194.5v5.5M2620.92 1194.5v5.5M2628.08 1194.5v5.5M2635.24 1194.5v5.5M2642.41 1194.5v5.5M2649.57 1194.5v5.5M2656.73 1194.5v5.5M2663.90 1194.5v5.5M2671.06 1194.5v5.5M2678.22 1194.5v5.5M2685.39 1194.5v5.5M2692.55 1194.5v5.5M2699.71 1194.5v5.5M2706.87 1194.5v5.5M2714.04 1194.5v5.5M2721.20 1194.5v5.5M2728.36 1194.5v5.5M2735.53 1194.5v5.5M2742.69 1194.5v5.5M2749.85 1194.5v5.5M2757.01 1194.5v5.5M2764.18 1194.5v5.5M2771.34 1194.5v5.5M2778.50 1194.5v5.5M2785.67 1194.5v5.5M2792.83 1194.5v5.5M2799.99 1194.5v5.5M2807.16 1194.5v5.5M2814.32 1194.5v5.5M2821.48 1194.5v5.5M2828.64 1194.5v5.5M2835.81 1194.5v5.5M2842.97 1194.5v5.5M2850.13 1194.5v5.5M2857.30 1194.5v5.5M2864.46 1194.5v5.5M2871.62 1194.5v5.5M2878.79 1194.5v5.5M2885.95 1194.5v5.5M2893.11 1194.5v5.5M2900.27 1194.5v5.5M2907.44 1194.5v5.5M2914.60 1194.5v5.5" stroke="#6c6c6c" stroke-width="2.4"/><text transform="translate(198.0,1216) rotate(90) scale(1,1.05)" style="font-size:35.5px">Nov 18</text><text transform="translate(241.0,1216) rotate(90) scale(1,1.05)" style="font-size:35.5px">Dec 30</text><text transform="translate(283.9,1216) rotate(90) scale(1,1.05)" style="font-size:35.5px">Feb 10</text><text transform="translate(326.9,1216) rotate(90) scale(1,1.05)" style="font-size:35.5px">Mar 24</text><text transform="translate(369.9,1216) rotate(90) scale(1,1.05)" style="font-size:35.5px">May 5</text><text transform="translate(412.9,1216) rotate(90) scale(1,1.05)" style="font-size:35.5px">Jun 16</text><text transform="translate(455.8,1216) rotate(90) scale(1,1.05)" style="font-size:35.5px">Jul 28</text><text transform="translate(498.8,1216) rotate(90) scale(1,1.05)" style="font-size:35.5px">Sep 8</text><text transform="translate(541.8,1216) rotate(90) scale(1,1.05)" style="font-size:35.5px">Oct 20</text><text transform="translate(584.8,1216) rotate(90) scale(1,1.05)" style="font-size:35.5px">Dec 1</text><text transform="translate(627.8,1216) rotate(90) scale(1,1.05)" style="font-size:35.5px">Jan 12</text><text transform="translate(670.7,1216) rotate(90) scale(1,1.05)" style="font-size:35.5px">Feb 23</text><text transform="translate(713.7,1216) rotate(90) scale(1,1.05)" style="font-size:35.5px">Apr 5</text><text transform="translate(756.7,1216) rotate(90) scale(1,1.05)" style="font-size:35.5px">May 17</text><text transform="translate(799.7,1216) rotate(90) scale(1,1.05)" style="font-size:35.5px">Jun 28</text><text transform="translate(842.6,1216) rotate(90) scale(1,1.05)" style="font-size:35.5px">Aug 9</text><text transform="translate(885.6,1216) rotate(90) scale(1,1.05)" style="font-size:35.5px">Sep 20</text><text transform="translate(928.6,1216) rotate(90) scale(1,1.05)" style="font-size:35.5px">Nov 1</text><text transform="translate(971.6,1216) rotate(90) scale(1,1.05)" style="font-size:35.5px">Dec 13</text><text transform="translate(1014.6,1216) rotate(90) scale(1,1.05)" style="font-size:35.5px">Jan 24</text><text transform="translate(1057.5,1216) rotate(90) scale(1,1.05)" style="font-size:35.5px">Mar 7</text><text transform="translate(1100.5,1216) rotate(90) scale(1,1.05)" style="font-size:35.5px">Apr 18</text><text transform="translate(1143.5,1216) rotate(90) scale(1,1.05)" style="font-size:35.5px">May 30</text><text transform="translate(1186.5,1216) rotate(90) scale(1,1.05)" style="font-size:35.5px">Jul 11</text><text transform="translate(1229.4,1216) rotate(90) scale(1,1.05)" style="font-size:35.5px">Aug 22</text><text transform="translate(1272.4,1216) rotate(90) scale(1,1.05)" style="font-size:35.5px">Oct 3</text><text transform="translate(1315.4,1216) rotate(90) scale(1,1.05)" style="font-size:35.5px">Nov 14</text><text transform="translate(1358.4,1216) rotate(90) scale(1,1.05)" style="font-size:35.5px">Dec 26</text><text transform="translate(1401.4,1216) rotate(90) scale(1,1.05)" style="font-size:35.5px">Feb 6</text><text transform="translate(1444.3,1216) rotate(90) scale(1,1.05)" style="font-size:35.5px">Mar 20</text><text transform="translate(1487.3,1216) rotate(90) scale(1,1.05)" style="font-size:35.5px">May 1</text><text transform="translate(1530.3,1216) rotate(90) scale(1,1.05)" style="font-size:35.5px">Jun 12</text><text transform="translate(1573.3,1216) rotate(90) scale(1,1.05)" style="font-size:35.5px">Jul 24</text><text transform="translate(1616.2,1216) rotate(90) scale(1,1.05)" style="font-size:35.5px">Sep 4</text><text transform="translate(1659.2,1216) rotate(90) scale(1,1.05)" style="font-size:35.5px">Oct 16</text><text transform="translate(1702.2,1216) rotate(90) scale(1,1.05)" style="font-size:35.5px">Nov 27</text><text transform="translate(1745.2,1216) rotate(90) scale(1,1.05)" style="font-size:35.5px">Jan 8</text><text transform="translate(1788.2,1216) rotate(90) scale(1,1.05)" style="font-size:35.5px">Feb 19</text><text transform="translate(1831.1,1216) rotate(90) scale(1,1.05)" style="font-size:35.5px">Apr 2</text><text transform="translate(1874.1,1216) rotate(90) scale(1,1.05)" style="font-size:35.5px">May 14</text><text transform="translate(1917.1,1216) rotate(90) scale(1,1.05)" style="font-size:35.5px">Jun 25</text><text transform="translate(1960.1,1216) rotate(90) scale(1,1.05)" style="font-size:35.5px">Aug 6</text><text transform="translate(2003.0,1216) rotate(90) scale(1,1.05)" style="font-size:35.5px">Sep 17</text><text transform="translate(2046.0,1216) rotate(90) scale(1,1.05)" style="font-size:35.5px">Oct 29</text><text transform="translate(2089.0,1216) rotate(90) scale(1,1.05)" style="font-size:35.5px">Dec 10</text><text transform="translate(2132.0,1216) rotate(90) scale(1,1.05)" style="font-size:35.5px">Jan 21</text><text transform="translate(2175.0,1216) rotate(90) scale(1,1.05)" style="font-size:35.5px">Mar 3</text><text transform="translate(2217.9,1216) rotate(90) scale(1,1.05)" style="font-size:35.5px">Apr 14</text><text transform="translate(2260.9,1216) rotate(90) scale(1,1.05)" style="font-size:35.5px">May 26</text><text transform="translate(2303.9,1216) rotate(90) scale(1,1.05)" style="font-size:35.5px">Jul 7</text><text transform="translate(2346.9,1216) rotate(90) scale(1,1.05)" style="font-size:35.5px">Aug 18</text><text transform="translate(2389.8,1216) rotate(90) scale(1,1.05)" style="font-size:35.5px">Sep 29</text><text transform="translate(2432.8,1216) rotate(90) scale(1,1.05)" style="font-size:35.5px">Nov 10</text><text transform="translate(2475.8,1216) rotate(90) scale(1,1.05)" style="font-size:35.5px">Dec 22</text><text transform="translate(2518.8,1216) rotate(90) scale(1,1.05)" style="font-size:35.5px">Feb 2</text><text transform="translate(2561.8,1216) rotate(90) scale(1,1.05)" style="font-size:35.5px">Mar 16</text><text transform="translate(2604.7,1216) rotate(90) scale(1,1.05)" style="font-size:35.5px">Apr 27</text><text transform="translate(2647.7,1216) rotate(90) scale(1,1.05)" style="font-size:35.5px">Jun 8</text><text transform="translate(2690.7,1216) rotate(90) scale(1,1.05)" style="font-size:35.5px">Jul 20</text><text transform="translate(2733.7,1216) rotate(90) scale(1,1.05)" style="font-size:35.5px">Aug 31</text><text transform="translate(2776.6,1216) rotate(90) scale(1,1.05)" style="font-size:35.5px">Oct 12</text><text transform="translate(2819.6,1216) rotate(90) scale(1,1.05)" style="font-size:35.5px">Nov 23</text><text transform="translate(2862.6,1216) rotate(90) scale(1,1.05)" style="font-size:35.5px">Jan 4</text><rect x="561.3" y="55.3" width="31.6" height="31.6" fill="#e89d8b" stroke="#d43c26" stroke-width="1.6"/><text transform="translate(613.5,84.3) scale(1,1.05)" style="font-size:35.5px">Call of the Archons</text><rect x="561.3" y="94.3" width="31.6" height="31.6" fill="#a82a1a" stroke="#8a1e10" stroke-width="1.6"/><text transform="translate(613.5,123.3) scale(1,1.05)" style="font-size:35.5px">Winds of Exchange</text><rect x="997.4" y="55.3" width="31.6" height="31.6" fill="#94c6f0" stroke="#2b68b0" stroke-width="1.6"/><text transform="translate(1050.0,84.3) scale(1,1.05)" style="font-size:35.5px">Age of Ascension</text><rect x="997.4" y="94.3" width="31.6" height="31.6" fill="#f09c36" stroke="#c07824" stroke-width="1.6"/><text transform="translate(1050.0,123.3) scale(1,1.05)" style="font-size:35.5px">Grim Reminders</text><rect x="1403.8" y="55.3" width="31.6" height="31.6" fill="#dc93d4" stroke="#80205f" stroke-width="1.6"/><text transform="translate(1456.6,84.3) scale(1,1.05)" style="font-size:35.5px">Worlds Collide</text><rect x="1403.8" y="94.3" width="31.6" height="31.6" fill="#8c2a95" stroke="#7e1e6a" stroke-width="1.6"/><text transform="translate(1456.6,123.3) scale(1,1.05)" style="font-size:35.5px">Æmber Skies</text><rect x="1763.2" y="55.3" width="31.6" height="31.6" fill="#6ebfac" stroke="#2c7366" stroke-width="1.6"/><text transform="translate(1816.0,84.3) scale(1,1.05)" style="font-size:35.5px">Mass Mutation</text><rect x="1763.2" y="94.3" width="31.6" height="31.6" fill="#52ae30" stroke="#35861c" stroke-width="1.6"/><text transform="translate(1816.0,123.3) scale(1,1.05)" style="font-size:35.5px">Prophetic Visions</text><rect x="2167.4" y="55.3" width="31.6" height="31.6" fill="#6596c9" stroke="#1d4780" stroke-width="1.6"/><text transform="translate(2220.6,84.3) scale(1,1.05)" style="font-size:35.5px">Dark Tidings</text><rect x="2167.4" y="94.3" width="31.6" height="31.6" fill="#444444" stroke="#505050" stroke-width="1.6"/><text transform="translate(2220.6,123.3) scale(1,1.05)" style="font-size:35.5px">Special Sets</text></svg></body></html>
